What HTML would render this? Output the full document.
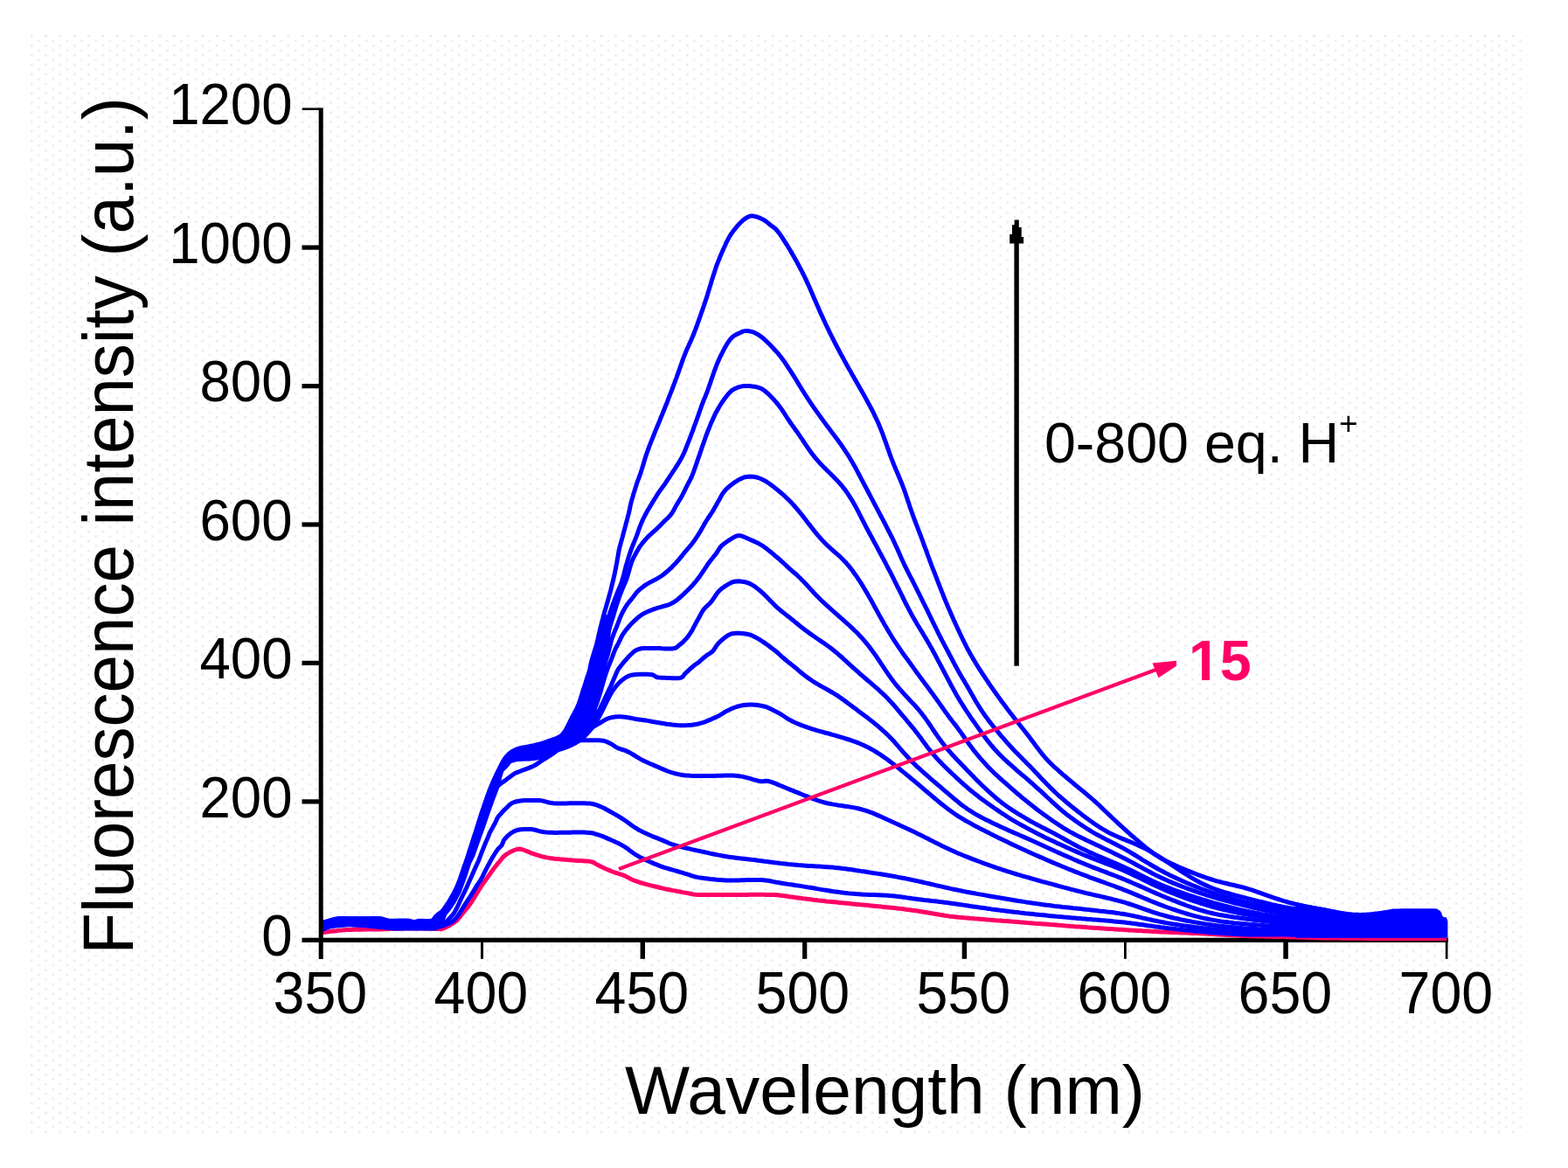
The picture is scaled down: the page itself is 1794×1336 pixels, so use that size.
<!DOCTYPE html><html><head><meta charset="utf-8"><title>Fluorescence spectra</title>
<style>html,body{margin:0;padding:0;background:#fff;}svg{display:block;}text{font-family:"Liberation Sans",sans-serif;}</style></head><body>
<svg width="1794" height="1336" viewBox="0 0 1794 1336">
<defs><pattern id="dots" x="35" y="40" width="16.3" height="10.9" patternUnits="userSpaceOnUse"><rect x="0" y="0" width="2.6" height="2.6" fill="#e9e9f6"/><rect x="8.15" y="5.45" width="2.6" height="2.6" fill="#ececf7"/></pattern></defs>
<rect x="0" y="0" width="1794" height="1336" fill="#fff"/>
<rect x="35" y="40" width="1712" height="1257" fill="url(#dots)"/>
<g fill="#000">
<rect x="345.5" y="1072.7" width="1311.5" height="5.2"/>
<rect x="550.0" y="1075" width="3.0" height="21.8"/>
<rect x="732.6" y="1075" width="5.4" height="21.8"/>
<rect x="918.1" y="1075" width="5.2" height="21.8"/>
<rect x="1100.7" y="1075" width="5.4" height="21.8"/>
<rect x="1286.0" y="1075" width="2.8" height="21.8"/>
<rect x="1468.3" y="1075" width="5.5" height="21.8"/>
<rect x="1653.8" y="1075" width="2.7" height="21.8"/>
</g>
<path d="M367.0 1067.0L370.0 1066.6L372.9 1066.1L375.9 1065.7L378.9 1065.3L381.9 1065.0L384.9 1064.7L387.8 1064.3L390.8 1064.1L393.8 1063.8L396.8 1063.6L399.8 1063.5L402.8 1063.4L405.8 1063.3L408.8 1063.3L411.8 1063.2L414.8 1063.2L417.8 1063.1L420.8 1063.1L423.8 1063.0L426.8 1063.0L429.8 1063.0L432.8 1062.9L435.8 1062.9L438.8 1062.8L441.8 1062.7L444.8 1062.6L447.8 1062.3L450.8 1062.2L453.8 1062.2L456.8 1062.2L459.8 1062.1L462.8 1062.1L465.8 1062.1L468.8 1062.1L471.8 1062.1L474.8 1062.1L477.8 1062.1L480.9 1062.1L483.9 1062.1L486.9 1062.1L489.9 1062.1L492.9 1062.2L495.9 1062.2L498.9 1062.2L501.9 1062.4L504.2 1062.9L507.0 1062.0L509.8 1060.9L512.5 1059.5L515.1 1058.0L517.6 1056.4L520.2 1054.8L522.5 1053.0L524.6 1050.8L526.4 1048.4L528.3 1046.0L530.2 1043.7L532.1 1041.4L534.0 1039.1L535.9 1036.8L537.7 1034.3L539.4 1031.9L541.0 1029.3L542.6 1026.8L544.1 1024.2L545.7 1021.6L547.2 1019.1L548.8 1016.5L550.5 1014.0L552.1 1011.5L553.9 1009.1L555.6 1006.6L557.3 1004.2L559.1 1001.7L560.8 999.3L562.5 996.8L564.3 994.4L566.1 992.0L568.0 989.6L569.9 987.3L571.9 985.1L573.7 982.7L575.6 980.4L577.8 978.4L580.3 976.6L582.9 975.1L585.5 973.8L588.3 972.5L591.1 971.5L594.1 971.1L597.0 971.5L599.9 972.5L602.7 973.6L605.5 974.7L608.2 975.9L611.1 976.8L613.9 977.8L616.8 978.7L619.6 979.6L622.6 980.3L625.5 980.9L628.5 981.4L631.4 981.8L634.4 982.2L637.4 982.5L640.4 982.8L643.4 983.0L646.4 983.3L649.4 983.6L652.4 983.8L655.3 984.1L658.3 984.3L661.3 984.5L664.3 984.6L667.3 984.7L670.3 984.9L673.3 985.1L676.3 985.6L679.1 986.5L681.7 988.1L684.3 989.6L687.0 990.9L689.7 992.2L692.4 993.5L695.2 994.7L697.9 995.9L700.7 997.0L703.5 998.0L706.4 998.9L709.3 999.8L712.1 1000.7L714.9 1001.8L717.6 1003.2L720.2 1004.6L722.9 1006.0L725.6 1007.2L728.5 1008.2L731.3 1009.1L734.2 1010.0L737.1 1010.8L740.0 1011.6L742.9 1012.4L745.8 1013.1L748.7 1013.8L751.6 1014.5L754.6 1015.2L757.5 1015.9L760.4 1016.6L763.3 1017.2L766.3 1017.8L769.2 1018.4L772.2 1018.9L775.1 1019.5L778.1 1020.0L781.0 1020.6L784.0 1021.1L787.0 1021.6L789.9 1022.2L792.8 1022.9L795.8 1023.2L798.8 1023.4L801.8 1023.4L804.8 1023.5L807.8 1023.5L810.8 1023.5L813.8 1023.5L816.8 1023.5L819.8 1023.5L822.8 1023.5L825.8 1023.5L828.8 1023.4L831.8 1023.4L834.8 1023.4L837.8 1023.4L840.8 1023.4L843.8 1023.4L846.8 1023.4L849.8 1023.4L852.8 1023.4L855.8 1023.4L858.8 1023.3L861.8 1023.3L864.9 1023.3L867.9 1023.3L870.9 1023.3L873.9 1023.3L876.9 1023.4L879.9 1023.4L882.9 1023.5L885.9 1023.6L888.9 1023.8L891.9 1024.0L894.8 1024.4L897.8 1024.8L900.8 1025.2L903.7 1025.7L906.7 1026.1L909.7 1026.5L912.7 1026.9L915.6 1027.3L918.6 1027.7L921.6 1028.0L924.6 1028.4L927.6 1028.8L930.5 1029.2L933.5 1029.5L936.5 1029.9L939.5 1030.2L942.5 1030.5L945.4 1030.9L948.4 1031.2L951.4 1031.5L954.4 1031.8L957.4 1032.1L960.4 1032.4L963.4 1032.7L966.4 1033.0L969.3 1033.3L972.3 1033.6L975.3 1033.9L978.3 1034.2L981.3 1034.5L984.3 1034.8L987.3 1035.0L990.3 1035.3L993.2 1035.6L996.2 1035.9L999.2 1036.2L1002.2 1036.5L1005.2 1036.8L1008.2 1037.1L1011.2 1037.4L1014.2 1037.7L1017.1 1038.0L1020.1 1038.3L1023.1 1038.6L1026.1 1038.9L1029.1 1039.3L1032.1 1039.6L1035.0 1040.0L1038.0 1040.4L1041.0 1040.7L1044.0 1041.2L1046.9 1041.6L1049.9 1042.0L1052.9 1042.5L1055.8 1043.0L1058.8 1043.5L1061.8 1044.0L1064.7 1044.5L1067.7 1045.0L1070.6 1045.5L1073.6 1046.0L1076.5 1046.5L1079.5 1047.0L1082.5 1047.4L1085.4 1047.9L1088.4 1048.2L1091.4 1048.6L1094.4 1048.9L1097.4 1049.2L1100.3 1049.5L1103.3 1049.8L1106.3 1050.0L1109.3 1050.3L1112.3 1050.5L1115.3 1050.8L1118.3 1051.0L1121.3 1051.3L1124.3 1051.5L1127.3 1051.7L1130.3 1052.0L1133.3 1052.2L1136.2 1052.4L1139.2 1052.7L1142.2 1052.9L1145.2 1053.1L1148.2 1053.4L1151.2 1053.6L1154.2 1053.8L1157.2 1054.1L1160.2 1054.3L1163.2 1054.5L1166.2 1054.8L1169.2 1055.0L1172.2 1055.2L1175.2 1055.5L1178.1 1055.7L1181.1 1055.9L1184.1 1056.2L1187.1 1056.4L1190.1 1056.6L1193.1 1056.9L1196.1 1057.1L1199.1 1057.3L1202.1 1057.6L1205.1 1057.8L1208.1 1058.0L1211.1 1058.3L1214.1 1058.5L1217.1 1058.7L1220.1 1059.0L1223.0 1059.2L1226.0 1059.4L1229.0 1059.7L1232.0 1059.9L1235.0 1060.1L1238.0 1060.3L1241.0 1060.5L1244.0 1060.8L1247.0 1061.0L1250.0 1061.2L1253.0 1061.4L1256.0 1061.6L1259.0 1061.8L1262.0 1062.0L1265.0 1062.2L1268.0 1062.4L1271.0 1062.6L1274.0 1062.8L1277.0 1063.0L1280.0 1063.2L1282.9 1063.3L1285.9 1063.5L1288.9 1063.7L1291.9 1063.9L1294.9 1064.1L1297.9 1064.2L1300.9 1064.4L1303.9 1064.6L1306.9 1064.8L1309.9 1064.9L1312.9 1065.1L1315.9 1065.3L1318.9 1065.4L1321.9 1065.6L1324.9 1065.7L1327.9 1065.9L1330.9 1066.0L1333.9 1066.1L1336.9 1066.3L1339.9 1066.4L1342.9 1066.5L1345.9 1066.6L1348.9 1066.8L1351.9 1066.9L1354.9 1067.0L1357.9 1067.1L1360.9 1067.2L1363.9 1067.4L1366.9 1067.5L1369.9 1067.6L1372.9 1067.8L1375.9 1067.9L1378.9 1068.1L1381.9 1068.2L1384.9 1068.4L1387.9 1068.6L1390.9 1068.8L1393.9 1068.9L1396.9 1069.1L1399.9 1069.3L1402.9 1069.5L1405.9 1069.7L1408.9 1069.8L1411.9 1070.0L1414.9 1070.1L1417.9 1070.3L1420.9 1070.4L1423.9 1070.5L1426.9 1070.6L1429.9 1070.7L1432.9 1070.8L1435.9 1070.9L1438.9 1071.0L1441.9 1071.0L1444.9 1071.1L1447.9 1071.2L1450.9 1071.2L1453.9 1071.3L1456.9 1071.4L1459.9 1071.4L1462.9 1071.5L1465.9 1071.6L1468.9 1071.6L1471.9 1071.7L1474.9 1071.8L1477.9 1071.9L1480.9 1072.0L1483.9 1072.1L1486.9 1072.2L1489.9 1072.3L1492.9 1072.3L1495.9 1072.4L1498.9 1072.5L1501.9 1072.6L1504.9 1072.7L1507.9 1072.7L1510.9 1072.8L1513.9 1072.9L1516.9 1072.9L1519.9 1073.0L1522.9 1073.0L1525.9 1073.0L1528.9 1073.1L1531.9 1073.1L1534.9 1073.2L1537.9 1073.2L1540.9 1073.2L1543.9 1073.2L1546.9 1073.3L1549.9 1073.3L1552.9 1073.3L1555.9 1073.3L1558.9 1073.3L1561.9 1073.3L1564.9 1073.4L1567.9 1073.4L1570.9 1073.4L1573.9 1073.4L1576.9 1073.4L1579.9 1073.4L1582.9 1073.4L1585.9 1073.4L1589.0 1073.5L1592.0 1073.5L1595.0 1073.5L1598.0 1073.5L1601.0 1073.5L1604.0 1073.5L1607.0 1073.5L1610.0 1073.5L1613.0 1073.5L1616.0 1073.5L1619.0 1073.5L1622.0 1073.5L1625.0 1073.5L1628.0 1073.5L1631.0 1073.5L1634.0 1073.5L1637.0 1073.5L1640.0 1073.5L1643.0 1073.5L1646.0 1073.5L1649.0 1073.5L1652.0 1073.5L1655.0 1073.5" fill="none" stroke="#ff0066" stroke-width="5.0" stroke-linejoin="round"/>
<g fill="#0000ff">
<polygon points="497.0,1047.0 500.0,1044.9 503.6,1042.5 506.0,1038.9 509.0,1034.7 512.0,1031.7 514.4,1026.3 517.4,1020.9 520.4,1014.9 522.8,1010.1 525.5,1002.0 528.5,993.4 531.5,985.0 535.0,975.0 539.3,965.0 545.0,948.0 550.5,930.0 555.5,915.0 560.9,900.0 567.5,885.0 575.0,870.0 580.0,863.0 584.3,858.0 591.0,854.7 604.4,852.3 617.7,849.2 626.4,846.4 634.2,843.7 640.5,840.9 645.4,835.4 648.1,830.0 650.8,824.6 653.5,819.2 656.2,813.8 659.5,807.7 662.2,800.3 664.3,792.2 667.6,783.5 670.3,775.4 673.0,767.5 675.2,757.4 678.0,746.5 681.0,736.0 684.0,723.5 687.0,711.5 692.0,702.0 700.5,708.0 699.0,722.0 697.0,740.0 694.5,755.0 692.0,768.0 690.0,779.0 688.0,789.0 686.0,796.0 683.0,802.5 680.5,808.0 683.0,811.0 687.5,814.5 686.0,821.0 682.0,827.5 676.5,834.0 670.0,838.0 661.6,842.1 656.8,844.8 650.0,850.5 645.0,854.5 640.0,856.9 631.9,864.9 620.9,868.8 602.0,870.4 591.0,871.2 584.0,873.2 580.0,874.3 577.0,880.0 574.0,890.0 571.7,900.0 566.0,915.0 560.6,930.0 555.5,945.0 550.1,960.0 548.0,966.0 543.0,980.0 539.0,988.0 535.5,999.0 532.0,1009.0 527.5,1021.0 521.5,1032.5 515.0,1042.0 509.0,1049.0 503.0,1054.0 497.0,1056.0"/>
<polygon points="367.0,1053.6 375.7,1053.6 375.7,1051.0 386.4,1051.0 386.4,1048.3 435.5,1048.3 435.5,1051.0 468.0,1051.0 468.0,1053.2 479.0,1053.2 479.0,1051.0 494.0,1051.0 498.8,1045.6 504.0,1042.5 504.0,1058.0 500.0,1064.6 449.0,1064.6 418.0,1061.2 400.0,1060.0 380.0,1061.2 370.0,1064.0 367.0,1066.6"/>
<polygon points="1482.5,1032.0 1497.0,1035.0 1514.3,1038.0 1531.7,1041.6 1547.7,1044.5 1565.0,1044.5 1579.6,1042.3 1594.0,1039.4 1644.8,1039.5 1645.5,1047.4 1656.4,1053.2 1656.4,1072.7 1482.5,1072.7"/>
</g>
<g fill="none" stroke="#0000ff" stroke-width="5.0" stroke-linejoin="round">
<path d="M367.0 1064.3L369.7 1063.0L372.4 1061.7L375.2 1060.6L378.1 1059.8L381.1 1059.4L384.0 1059.1L387.0 1058.8L390.0 1058.4L393.0 1058.1L396.0 1057.8L399.0 1057.7L402.0 1057.7L405.0 1057.9L408.0 1058.1L411.0 1058.3L414.0 1058.5L417.0 1058.7L420.0 1058.9L423.0 1059.0L426.0 1059.0L429.0 1058.9L432.0 1058.9L435.0 1058.9L438.0 1059.0L441.0 1059.3L443.9 1059.6L446.5 1060.8L449.4 1061.6L452.4 1061.7L455.4 1061.7L458.4 1061.7L461.4 1061.7L464.4 1061.6L467.4 1061.6L470.4 1061.6L473.4 1061.6L476.4 1061.6L479.4 1061.6L482.4 1061.6L485.4 1061.7L488.4 1061.7L491.4 1061.7L494.4 1061.6L497.4 1061.2L500.3 1060.6L503.2 1059.9L506.1 1059.2L509.0 1058.2L511.7 1057.1L514.5 1055.8L517.2 1054.5L519.5 1052.6L521.6 1050.5L523.5 1048.2L525.2 1045.7L526.8 1043.1L528.3 1040.6L529.9 1038.0L531.5 1035.4L533.1 1032.9L534.8 1030.4L536.4 1027.9L538.1 1025.4L539.6 1022.8L541.2 1020.3L542.7 1017.7L544.3 1015.1L545.8 1012.6L547.5 1010.1L549.2 1007.6L550.8 1005.0L552.2 1002.4L553.5 999.7L554.8 997.0L556.2 994.3L557.6 991.6L559.0 989.0L560.4 986.3L561.8 983.7L563.3 981.1L564.9 978.5L566.5 976.0L568.1 973.5L569.9 971.1L572.0 968.9L574.1 966.8L575.3 964.1L576.3 961.3L578.1 958.9L580.2 956.7L582.5 954.7L584.8 952.9L587.4 951.3L590.1 950.1L593.0 949.2L596.0 948.7L599.0 948.6L602.0 948.5L605.0 948.5L608.0 948.6L610.9 949.0L613.8 949.7L616.7 950.6L619.6 951.3L622.6 951.8L625.6 952.1L628.6 952.3L631.6 952.3L634.6 952.4L637.6 952.4L640.6 952.3L643.6 952.3L646.6 952.3L649.6 952.2L652.6 952.2L655.6 952.1L658.6 952.1L661.6 952.1L664.6 952.1L667.6 952.1L670.6 952.2L673.6 952.4L676.6 952.7L679.5 953.3L682.4 954.3L685.2 955.2L688.1 956.1L690.9 957.2L693.6 958.4L696.4 959.6L699.1 960.8L701.9 962.0L704.6 963.3L707.3 964.5L710.0 965.9L712.6 967.4L715.2 968.9L717.7 970.6L720.1 972.4L722.5 974.2L724.9 976.0L727.4 977.7L730.0 979.2L732.6 980.6L735.3 982.0L738.0 983.3L740.7 984.5L743.5 985.7L746.2 986.9L749.0 988.1L751.8 989.2L754.6 990.3L757.4 991.3L760.2 992.3L763.1 993.1L766.0 994.0L768.9 994.8L771.8 995.7L774.6 996.5L777.5 997.4L780.4 998.2L783.3 999.1L786.1 999.9L789.0 1000.8L791.8 1001.9L794.7 1002.7L797.6 1003.4L800.6 1003.9L803.6 1004.3L806.5 1004.7L809.5 1005.1L812.5 1005.5L815.5 1005.8L818.5 1006.1L821.5 1006.4L824.4 1006.6L827.4 1006.8L830.4 1007.0L833.4 1007.1L836.4 1007.1L839.4 1007.1L842.4 1007.0L845.4 1006.9L848.4 1006.8L851.4 1006.7L854.4 1006.6L857.4 1006.5L860.4 1006.4L863.4 1006.4L866.5 1006.4L869.5 1006.5L872.4 1006.6L875.4 1006.9L878.4 1007.3L881.4 1007.8L884.3 1008.4L887.3 1009.0L890.2 1009.5L893.2 1010.0L896.1 1010.5L899.1 1010.9L902.1 1011.4L905.1 1011.8L908.0 1012.2L911.0 1012.7L914.0 1013.1L916.9 1013.6L919.9 1014.1L922.8 1014.6L925.8 1015.1L928.8 1015.5L931.7 1016.0L934.7 1016.6L937.6 1017.1L940.6 1017.6L943.6 1018.1L946.5 1018.5L949.5 1019.0L952.5 1019.5L955.4 1019.9L958.4 1020.3L961.4 1020.7L964.4 1021.1L967.3 1021.4L970.3 1021.8L973.3 1022.1L976.3 1022.3L979.3 1022.6L982.3 1022.8L985.3 1023.0L988.3 1023.2L991.3 1023.3L994.3 1023.4L997.2 1023.5L1000.2 1023.6L1003.2 1023.7L1006.2 1023.8L1009.2 1023.9L1012.2 1024.1L1015.2 1024.2L1018.2 1024.5L1021.2 1024.7L1024.2 1025.0L1027.1 1025.4L1030.1 1025.8L1033.1 1026.2L1036.1 1026.6L1039.0 1027.1L1042.0 1027.5L1045.0 1027.9L1047.9 1028.3L1050.9 1028.7L1053.9 1029.1L1056.9 1029.5L1059.9 1029.8L1062.8 1030.1L1065.8 1030.5L1068.8 1030.8L1071.8 1031.1L1074.8 1031.5L1077.7 1031.8L1080.7 1032.2L1083.7 1032.6L1086.7 1033.0L1089.6 1033.4L1092.6 1033.8L1095.6 1034.3L1098.6 1034.7L1101.5 1035.1L1104.5 1035.6L1107.5 1036.0L1110.4 1036.5L1113.4 1036.9L1116.4 1037.3L1119.3 1037.8L1122.3 1038.2L1125.3 1038.6L1128.3 1039.0L1131.2 1039.4L1134.2 1039.9L1137.2 1040.3L1140.2 1040.7L1143.1 1041.1L1146.1 1041.4L1149.1 1041.8L1152.1 1042.2L1155.0 1042.6L1158.0 1042.9L1161.0 1043.3L1164.0 1043.6L1167.0 1044.0L1170.0 1044.3L1172.9 1044.7L1175.9 1045.0L1178.9 1045.3L1181.9 1045.6L1184.9 1045.9L1187.9 1046.2L1190.9 1046.5L1193.8 1046.8L1196.8 1047.1L1199.8 1047.4L1202.8 1047.7L1205.8 1048.0L1208.8 1048.3L1211.8 1048.5L1214.8 1048.8L1217.7 1049.1L1220.7 1049.3L1223.7 1049.6L1226.7 1049.9L1229.7 1050.1L1232.7 1050.4L1235.7 1050.6L1238.7 1050.9L1241.7 1051.1L1244.7 1051.4L1247.7 1051.6L1250.7 1051.9L1253.6 1052.1L1256.6 1052.3L1259.6 1052.6L1262.6 1052.8L1265.6 1053.1L1268.6 1053.3L1271.6 1053.6L1274.6 1053.9L1277.6 1054.2L1280.6 1054.5L1283.5 1054.8L1286.5 1055.1L1289.5 1055.5L1292.5 1055.8L1295.5 1056.2L1298.4 1056.6L1301.4 1057.0L1304.4 1057.4L1307.4 1057.8L1310.3 1058.2L1313.3 1058.7L1316.3 1059.1L1319.3 1059.5L1322.2 1059.9L1325.2 1060.3L1328.2 1060.7L1331.2 1061.0L1334.1 1061.4L1337.1 1061.8L1340.1 1062.1L1343.1 1062.4L1346.1 1062.8L1349.1 1063.1L1352.0 1063.4L1355.0 1063.7L1358.0 1064.0L1361.0 1064.3L1364.0 1064.6L1367.0 1064.9L1370.0 1065.2L1373.0 1065.4L1375.9 1065.7L1378.9 1065.9L1381.9 1066.2L1384.9 1066.4L1387.9 1066.7L1390.9 1066.9L1393.9 1067.1L1396.9 1067.4L1399.9 1067.6L1402.9 1067.8L1405.9 1068.0L1408.9 1068.1L1411.9 1068.3L1414.9 1068.5L1417.9 1068.6L1420.9 1068.7L1423.9 1068.8L1426.9 1068.9L1429.9 1069.0L1432.9 1069.0L1435.9 1069.1L1438.9 1069.1L1441.9 1069.1L1444.9 1069.1L1447.9 1069.1L1450.9 1069.1L1453.9 1069.1L1456.9 1069.1L1459.9 1069.1L1462.9 1069.1L1465.9 1069.1L1468.9 1069.1L1471.9 1069.1L1474.9 1069.1L1477.9 1069.2L1480.9 1069.2L1483.9 1069.3L1486.9 1069.3L1489.9 1069.4L1492.9 1069.4L1495.9 1069.5L1498.9 1069.6L1501.9 1069.6L1504.9 1069.7L1507.9 1069.8L1510.9 1069.8L1513.9 1069.9L1516.9 1069.9L1519.9 1069.9L1522.9 1070.0L1525.9 1070.0L1528.9 1070.0L1531.9 1070.0L1534.9 1070.0L1537.9 1070.0L1540.9 1070.0L1543.9 1070.0L1546.9 1070.0L1549.9 1070.0L1552.9 1070.0L1555.9 1070.0L1558.9 1070.0L1561.9 1070.0L1564.9 1070.0L1567.9 1070.0L1570.9 1070.0L1573.9 1070.0L1576.9 1070.0L1579.9 1070.0L1583.0 1070.0L1586.0 1070.0L1589.0 1070.0L1592.0 1070.0L1595.0 1070.0L1598.0 1070.0L1601.0 1070.0L1604.0 1070.0L1607.0 1070.0L1610.0 1070.0L1613.0 1070.0L1616.0 1070.0L1619.0 1070.0L1622.0 1070.0L1625.0 1070.0L1628.0 1070.0L1631.0 1070.0L1634.0 1070.0L1637.0 1070.0L1640.0 1070.0L1643.0 1070.0L1646.0 1070.0L1649.0 1070.0L1652.0 1070.0L1655.0 1070.0"/>
<path d="M367.0 1063.4L369.7 1062.2L372.4 1060.9L375.2 1059.8L378.2 1059.1L381.1 1058.6L384.1 1058.3L387.1 1058.0L390.1 1057.6L393.1 1057.3L396.1 1057.1L399.1 1057.0L402.1 1057.0L405.1 1057.2L408.1 1057.3L411.1 1057.6L414.1 1057.8L417.1 1057.9L420.1 1058.1L423.1 1058.1L426.1 1058.1L429.1 1058.1L432.1 1058.0L435.1 1058.1L438.1 1058.3L441.1 1058.6L444.0 1059.0L446.7 1060.2L449.6 1060.8L452.6 1060.9L455.6 1060.9L458.6 1060.8L461.6 1060.8L464.6 1060.8L467.6 1060.8L470.6 1060.8L473.6 1060.9L476.6 1060.8L479.6 1060.8L482.6 1060.8L485.6 1060.9L488.6 1060.9L491.6 1060.9L494.6 1060.7L497.6 1060.2L500.4 1059.3L503.3 1058.4L506.1 1057.4L508.8 1056.0L511.0 1054.0L513.1 1051.8L515.1 1049.6L517.1 1047.4L519.1 1045.1L520.6 1042.5L522.0 1039.9L523.4 1037.2L524.7 1034.5L525.9 1031.8L527.1 1029.0L528.4 1026.3L529.7 1023.6L531.1 1020.9L532.4 1018.2L533.7 1015.5L534.9 1012.7L536.1 1010.0L537.3 1007.2L538.5 1004.5L539.8 1001.8L541.0 999.0L542.2 996.3L543.4 993.5L544.7 990.8L545.9 988.1L547.2 985.3L548.3 982.5L549.4 979.7L550.4 976.9L551.5 974.1L552.6 971.3L553.7 968.5L554.8 965.7L556.0 963.0L557.2 960.2L558.4 957.5L559.5 954.7L560.6 951.9L562.1 949.3L563.6 946.7L565.0 944.0L566.5 941.4L567.7 938.7L568.9 935.9L570.6 933.4L572.6 931.2L574.6 929.0L576.7 926.8L578.8 924.7L581.0 922.6L583.1 920.5L585.5 918.7L588.3 917.5L591.2 916.8L594.1 916.2L597.1 915.8L600.1 915.5L603.1 915.4L606.1 915.4L609.1 915.5L612.1 915.5L615.1 915.5L618.1 915.6L621.1 916.1L624.0 916.9L626.8 917.7L629.8 918.3L632.8 918.7L635.8 918.9L638.8 918.9L641.8 918.9L644.8 918.9L647.8 918.9L650.8 918.8L653.8 918.8L656.8 918.7L659.8 918.7L662.8 918.7L665.8 918.7L668.8 918.7L671.8 918.9L674.8 919.1L677.8 919.5L680.7 920.2L683.5 921.2L686.4 922.3L689.1 923.5L691.8 924.8L694.4 926.2L697.1 927.7L699.7 929.2L702.3 930.6L704.9 932.1L707.5 933.7L710.0 935.2L712.6 936.9L715.1 938.5L717.6 940.2L720.0 942.0L722.4 943.8L724.9 945.5L727.4 947.2L729.9 948.7L732.6 950.1L735.2 951.5L737.9 952.8L740.7 954.1L743.4 955.3L746.2 956.5L749.0 957.6L751.8 958.7L754.6 959.8L757.4 960.9L760.1 962.1L762.9 963.3L765.6 964.5L768.4 965.6L771.3 966.5L774.2 967.3L777.1 968.1L780.0 968.8L782.9 969.5L785.8 970.2L788.8 970.9L791.7 971.6L794.6 972.2L797.5 972.9L800.5 973.5L803.4 974.1L806.4 974.8L809.3 975.4L812.2 976.1L815.2 976.7L818.1 977.3L821.1 977.9L824.0 978.4L827.0 979.0L829.9 979.5L832.9 980.0L835.9 980.4L838.8 980.8L841.8 981.2L844.8 981.6L847.8 981.9L850.8 982.2L853.7 982.6L856.7 982.9L859.7 983.3L862.7 983.6L865.7 984.0L868.7 984.4L871.6 984.8L874.6 985.2L877.6 985.5L880.6 985.9L883.6 986.3L886.5 986.7L889.5 987.0L892.5 987.4L895.5 987.7L898.5 988.0L901.5 988.4L904.4 988.7L907.4 989.0L910.4 989.3L913.4 989.6L916.4 989.8L919.4 990.0L922.4 990.2L925.4 990.4L928.4 990.6L931.4 990.8L934.4 991.0L937.4 991.1L940.4 991.3L943.4 991.5L946.4 991.7L949.4 991.9L952.4 992.1L955.3 992.4L958.3 992.7L961.3 993.0L964.3 993.4L967.3 993.8L970.2 994.2L973.2 994.6L976.2 995.0L979.2 995.5L982.1 995.9L985.1 996.4L988.1 996.8L991.0 997.3L994.0 997.8L997.0 998.2L999.9 998.7L1002.9 999.1L1005.9 999.6L1008.8 1000.0L1011.8 1000.5L1014.8 1001.0L1017.7 1001.5L1020.7 1002.0L1023.7 1002.5L1026.6 1003.1L1029.6 1003.7L1032.5 1004.2L1035.5 1004.8L1038.4 1005.4L1041.3 1006.0L1044.3 1006.6L1047.2 1007.3L1050.1 1007.9L1053.1 1008.5L1056.0 1009.2L1058.9 1009.9L1061.9 1010.5L1064.8 1011.2L1067.7 1011.9L1070.6 1012.6L1073.6 1013.3L1076.5 1013.9L1079.4 1014.6L1082.4 1015.3L1085.3 1015.9L1088.2 1016.6L1091.2 1017.2L1094.1 1017.8L1097.0 1018.4L1100.0 1019.0L1102.9 1019.6L1105.9 1020.2L1108.8 1020.7L1111.8 1021.3L1114.7 1021.8L1117.7 1022.4L1120.6 1022.9L1123.6 1023.4L1126.6 1023.9L1129.5 1024.5L1132.5 1025.0L1135.4 1025.5L1138.4 1026.0L1141.4 1026.5L1144.3 1027.0L1147.3 1027.5L1150.2 1028.0L1153.2 1028.5L1156.2 1029.0L1159.1 1029.5L1162.1 1030.0L1165.1 1030.5L1168.0 1030.9L1171.0 1031.4L1174.0 1031.9L1176.9 1032.3L1179.9 1032.8L1182.9 1033.2L1185.9 1033.6L1188.8 1034.1L1191.8 1034.5L1194.8 1034.9L1197.8 1035.3L1200.7 1035.6L1203.7 1036.0L1206.7 1036.4L1209.7 1036.7L1212.7 1037.0L1215.7 1037.4L1218.6 1037.7L1221.6 1038.0L1224.6 1038.3L1227.6 1038.7L1230.6 1039.0L1233.6 1039.3L1236.6 1039.6L1239.5 1039.9L1242.5 1040.3L1245.5 1040.6L1248.5 1040.9L1251.5 1041.2L1254.5 1041.5L1257.5 1041.9L1260.5 1042.2L1263.4 1042.5L1266.4 1042.9L1269.4 1043.2L1272.4 1043.6L1275.4 1044.0L1278.3 1044.4L1281.3 1044.9L1284.3 1045.3L1287.2 1045.8L1290.2 1046.4L1293.1 1046.9L1296.1 1047.5L1299.0 1048.1L1301.9 1048.7L1304.9 1049.4L1307.8 1050.1L1310.7 1050.7L1313.7 1051.4L1316.6 1052.0L1319.5 1052.7L1322.5 1053.3L1325.4 1053.9L1328.4 1054.5L1331.3 1055.0L1334.3 1055.6L1337.2 1056.1L1340.2 1056.6L1343.1 1057.1L1346.1 1057.5L1349.1 1058.0L1352.0 1058.4L1355.0 1058.9L1358.0 1059.3L1361.0 1059.7L1363.9 1060.1L1366.9 1060.5L1369.9 1060.8L1372.9 1061.2L1375.9 1061.6L1378.9 1061.9L1381.8 1062.2L1384.8 1062.6L1387.8 1062.9L1390.8 1063.2L1393.8 1063.5L1396.8 1063.8L1399.8 1064.1L1402.8 1064.3L1405.8 1064.6L1408.7 1064.8L1411.7 1065.0L1414.7 1065.3L1417.7 1065.4L1420.7 1065.6L1423.7 1065.8L1426.7 1066.0L1429.7 1066.1L1432.7 1066.2L1435.7 1066.3L1438.7 1066.4L1441.7 1066.5L1444.7 1066.6L1447.7 1066.6L1450.7 1066.7L1453.8 1066.7L1456.8 1066.8L1459.8 1066.8L1462.8 1066.9L1465.8 1066.9L1468.8 1067.0L1471.8 1067.0L1474.8 1067.1L1477.8 1067.2L1480.8 1067.2L1483.8 1067.3L1486.8 1067.4L1489.8 1067.4L1492.8 1067.5L1495.8 1067.6L1498.8 1067.6L1501.8 1067.7L1504.8 1067.7L1507.8 1067.8L1510.8 1067.8L1513.8 1067.9L1516.8 1067.9L1519.8 1067.9L1522.8 1068.0L1525.8 1068.0L1528.8 1068.0L1531.8 1068.0L1534.8 1068.0L1537.8 1068.0L1540.9 1068.0L1543.9 1068.0L1546.9 1068.0L1549.9 1068.0L1552.9 1068.0L1555.9 1068.0L1558.9 1068.0L1561.9 1068.0L1564.9 1068.0L1567.9 1068.0L1570.9 1068.0L1573.9 1068.0L1576.9 1068.0L1579.9 1068.0L1582.9 1068.0L1585.9 1068.0L1588.9 1068.0L1591.9 1068.0L1594.9 1068.0L1597.9 1068.0L1600.9 1068.0L1603.9 1068.0L1606.9 1068.0L1609.9 1068.0L1612.9 1068.0L1615.9 1068.0L1619.0 1068.0L1622.0 1068.0L1625.0 1068.0L1628.0 1068.0L1631.0 1068.0L1634.0 1068.0L1637.0 1068.0L1640.0 1068.0L1643.0 1068.0L1646.0 1068.0L1649.0 1068.0L1652.0 1068.0L1655.0 1068.0"/>
<path d="M367.0 1062.6L369.7 1061.3L372.5 1060.1L375.3 1059.1L378.2 1058.3L381.2 1057.8L384.1 1057.5L387.1 1057.1L390.1 1056.8L393.1 1056.6L396.1 1056.4L399.1 1056.3L402.1 1056.3L405.1 1056.4L408.1 1056.6L411.1 1056.8L414.1 1057.0L417.1 1057.1L420.1 1057.3L423.1 1057.3L426.1 1057.3L429.1 1057.2L432.1 1057.2L435.1 1057.3L438.1 1057.5L441.1 1057.8L444.1 1058.3L446.7 1059.5L449.7 1060.0L452.7 1060.0L455.7 1060.0L458.7 1060.0L461.7 1059.9L464.7 1059.9L467.7 1059.9L470.7 1060.0L473.7 1060.2L476.7 1060.1L479.7 1059.9L482.7 1059.9L485.7 1060.0L488.7 1060.0L491.7 1060.0L494.7 1059.9L497.7 1059.6L500.5 1058.7L503.0 1057.0L504.9 1054.7L506.4 1052.1L507.6 1049.3L508.4 1046.5L509.3 1043.6L510.6 1040.9L512.4 1038.5L514.2 1036.1L515.9 1033.6L517.5 1031.0L519.0 1028.5L520.6 1025.9L522.0 1023.3L523.5 1020.6L524.8 1017.9L526.0 1015.2L527.2 1012.4L528.3 1009.6L529.4 1006.8L530.5 1004.0L531.5 1001.2L532.5 998.4L533.4 995.5L534.3 992.7L535.3 989.8L536.3 987.0L537.2 984.1L538.2 981.3L539.1 978.4L540.1 975.6L541.0 972.7L542.0 969.9L542.9 967.0L543.8 964.2L544.7 961.3L545.7 958.4L546.6 955.6L547.5 952.7L548.4 949.9L549.3 947.0L550.2 944.1L551.1 941.3L552.1 938.4L553.0 935.6L553.9 932.7L554.9 929.9L555.8 927.0L556.8 924.2L557.7 921.3L558.6 918.5L559.5 915.6L560.4 912.7L561.4 909.9L562.6 907.1L564.1 904.6L566.1 902.3L568.2 900.2L570.5 898.3L572.8 896.3L575.3 894.6L577.8 892.9L580.2 891.1L582.6 889.3L585.0 887.5L587.4 885.7L590.0 884.2L592.8 883.1L595.6 882.0L598.4 880.9L601.2 879.9L604.0 878.8L606.8 877.7L609.6 876.6L612.3 875.3L614.7 873.6L617.2 871.9L619.7 870.2L622.2 868.6L624.8 867.0L627.3 865.4L629.9 863.8L632.4 862.2L634.8 860.4L637.2 858.6L639.6 856.8L642.0 855.0L644.3 853.1L646.7 851.2L649.1 849.4L651.8 848.1L654.7 847.4L657.7 847.2L660.7 847.0L663.7 846.8L666.7 846.8L669.7 846.8L672.7 846.8L675.7 846.8L678.7 846.8L681.7 846.8L684.7 846.8L687.7 846.9L690.7 847.3L693.5 848.2L696.3 849.4L699.0 850.7L701.5 852.3L703.9 854.1L706.6 855.5L709.4 856.6L712.2 857.5L715.1 858.4L717.9 859.6L720.5 860.9L723.1 862.4L725.7 864.0L728.3 865.6L730.8 867.1L733.4 868.6L736.1 870.0L738.8 871.3L741.5 872.5L744.3 873.7L747.1 874.9L749.8 876.1L752.6 877.3L755.3 878.4L758.1 879.7L760.9 880.8L763.6 882.0L766.5 883.0L769.3 883.9L772.2 884.7L775.1 885.4L778.1 886.0L781.0 886.5L784.0 886.9L787.0 887.1L790.0 887.3L793.0 887.4L796.0 887.5L799.0 887.5L802.0 887.5L805.0 887.5L808.0 887.5L811.0 887.5L814.0 887.5L817.0 887.4L820.0 887.3L823.0 887.2L826.0 887.2L829.0 887.1L832.0 887.1L835.0 887.1L838.0 887.1L841.0 887.3L844.0 887.5L847.0 887.9L850.0 888.4L852.9 889.1L855.8 889.9L858.7 890.7L861.6 891.6L864.4 892.4L867.3 893.2L870.3 893.8L873.3 893.8L876.2 893.2L879.2 893.5L882.0 894.3L884.9 895.4L887.7 896.4L890.5 897.6L893.2 898.7L896.0 899.9L898.8 901.0L901.5 902.2L904.3 903.3L907.1 904.4L909.9 905.6L912.7 906.7L915.5 907.8L918.2 909.0L921.0 910.1L923.8 911.2L926.6 912.3L929.4 913.4L932.2 914.4L935.0 915.4L937.9 916.3L940.7 917.2L943.6 918.0L946.5 918.7L949.4 919.3L952.3 919.9L955.3 920.4L958.2 920.9L961.2 921.3L964.2 921.7L967.1 922.2L970.1 922.6L973.1 923.1L976.0 923.6L978.9 924.1L981.8 924.8L984.7 925.5L987.6 926.3L990.5 927.2L993.3 928.1L996.1 929.2L998.9 930.2L1001.6 931.4L1004.4 932.6L1007.1 933.8L1009.9 935.0L1012.6 936.2L1015.3 937.5L1018.1 938.7L1020.8 940.0L1023.5 941.2L1026.3 942.5L1029.0 943.7L1031.7 945.0L1034.5 946.2L1037.2 947.5L1039.9 948.7L1042.6 950.0L1045.3 951.3L1048.0 952.6L1050.7 954.0L1053.4 955.3L1056.1 956.6L1058.8 958.0L1061.5 959.3L1064.1 960.7L1066.8 962.0L1069.5 963.4L1072.2 964.7L1074.9 966.1L1077.6 967.4L1080.3 968.7L1083.0 970.0L1085.7 971.3L1088.4 972.5L1091.2 973.8L1093.9 975.0L1096.7 976.2L1099.4 977.3L1102.2 978.5L1105.0 979.6L1107.8 980.7L1110.6 981.8L1113.4 982.9L1116.2 983.9L1119.0 985.0L1121.8 986.0L1124.6 987.1L1127.4 988.1L1130.3 989.1L1133.1 990.1L1135.9 991.1L1138.8 992.1L1141.6 993.1L1144.5 994.0L1147.3 995.0L1150.2 995.9L1153.0 996.8L1155.9 997.7L1158.8 998.6L1161.6 999.5L1164.5 1000.4L1167.4 1001.2L1170.3 1002.1L1173.1 1002.9L1176.0 1003.7L1178.9 1004.5L1181.8 1005.3L1184.7 1006.1L1187.6 1007.0L1190.5 1007.8L1193.4 1008.6L1196.3 1009.3L1199.2 1010.1L1202.1 1010.9L1205.0 1011.7L1207.9 1012.5L1210.8 1013.3L1213.7 1014.1L1216.6 1014.9L1219.5 1015.6L1222.4 1016.4L1225.3 1017.2L1228.2 1017.9L1231.1 1018.7L1234.0 1019.4L1236.9 1020.1L1239.8 1020.8L1242.8 1021.6L1245.7 1022.2L1248.6 1022.9L1251.5 1023.6L1254.4 1024.3L1257.4 1024.9L1260.3 1025.6L1263.2 1026.3L1266.2 1027.0L1269.1 1027.6L1272.0 1028.3L1274.9 1029.1L1277.8 1029.8L1280.7 1030.6L1283.6 1031.4L1286.5 1032.2L1289.4 1033.1L1292.2 1034.0L1295.1 1034.9L1297.9 1035.9L1300.8 1036.8L1303.6 1037.8L1306.4 1038.8L1309.2 1039.8L1312.1 1040.8L1314.9 1041.8L1317.7 1042.8L1320.6 1043.8L1323.4 1044.7L1326.3 1045.6L1329.2 1046.4L1332.1 1047.2L1335.0 1048.0L1337.9 1048.8L1340.8 1049.5L1343.7 1050.2L1346.6 1050.8L1349.6 1051.5L1352.5 1052.1L1355.4 1052.7L1358.4 1053.3L1361.3 1053.8L1364.3 1054.4L1367.2 1054.9L1370.2 1055.4L1373.2 1055.9L1376.1 1056.4L1379.1 1056.9L1382.1 1057.3L1385.0 1057.7L1388.0 1058.2L1391.0 1058.6L1394.0 1058.9L1396.9 1059.3L1399.9 1059.6L1402.9 1059.9L1405.9 1060.3L1408.9 1060.5L1411.9 1060.8L1414.9 1061.1L1417.9 1061.3L1420.9 1061.6L1423.8 1061.8L1426.8 1062.0L1429.8 1062.2L1432.8 1062.4L1435.8 1062.6L1438.8 1062.8L1441.8 1062.9L1444.8 1063.0L1447.8 1063.2L1450.8 1063.3L1453.8 1063.4L1456.8 1063.5L1459.8 1063.6L1462.8 1063.7L1465.8 1063.8L1468.8 1063.9L1471.8 1064.0L1474.8 1064.1L1477.8 1064.2L1480.8 1064.2L1483.8 1064.3L1486.8 1064.4L1489.9 1064.4L1492.9 1064.5L1495.9 1064.6L1498.9 1064.6L1501.9 1064.7L1504.9 1064.7L1507.9 1064.8L1510.9 1064.8L1513.9 1064.9L1516.9 1065.0L1519.9 1065.0L1522.9 1065.1L1525.9 1065.2L1528.9 1065.2L1531.9 1065.3L1534.9 1065.4L1537.9 1065.5L1540.9 1065.5L1543.9 1065.6L1546.9 1065.7L1549.9 1065.7L1552.9 1065.8L1555.9 1065.8L1558.9 1065.9L1561.9 1065.9L1564.9 1066.0L1567.9 1066.0L1570.9 1066.0L1573.9 1066.0L1576.9 1066.0L1579.9 1066.0L1582.9 1066.0L1585.9 1066.0L1588.9 1066.0L1591.9 1066.0L1594.9 1066.0L1597.9 1066.0L1600.9 1066.0L1603.9 1066.0L1607.0 1066.0L1610.0 1066.0L1613.0 1066.0L1616.0 1066.0L1619.0 1066.0L1622.0 1066.0L1625.0 1066.0L1628.0 1066.0L1631.0 1066.0L1634.0 1066.0L1637.0 1066.0L1640.0 1066.0L1643.0 1066.0L1646.0 1066.0L1649.0 1066.0L1652.0 1066.0L1655.0 1066.0"/>
<path d="M367.0 1061.7L369.8 1060.5L372.5 1059.4L375.4 1058.4L378.3 1057.6L381.2 1057.1L384.2 1056.6L387.2 1056.3L390.2 1056.0L393.2 1055.8L396.2 1055.7L399.2 1055.6L402.2 1055.6L405.2 1055.7L408.2 1055.9L411.2 1056.0L414.2 1056.2L417.2 1056.3L420.2 1056.4L423.2 1056.5L426.2 1056.4L429.2 1056.4L432.2 1056.4L435.2 1056.5L438.2 1056.7L441.2 1057.1L444.1 1057.7L446.9 1058.8L449.8 1059.1L452.8 1059.2L455.8 1059.1L458.8 1059.1L461.8 1059.1L464.9 1059.1L467.9 1059.1L470.9 1059.3L473.8 1059.5L476.8 1059.3L479.8 1059.1L482.8 1059.1L485.8 1059.2L488.9 1059.3L491.9 1059.3L494.8 1059.0L497.7 1058.1L500.2 1056.4L502.1 1054.1L503.8 1051.6L506.0 1049.5L507.6 1047.0L508.9 1044.3L510.1 1041.5L511.4 1038.8L512.9 1036.2L514.7 1033.8L516.3 1031.3L517.8 1028.7L519.3 1026.1L520.9 1023.5L522.3 1020.9L523.7 1018.2L524.9 1015.5L526.1 1012.7L527.2 1009.9L528.3 1007.1L529.3 1004.3L530.3 1001.4L531.3 998.6L532.2 995.7L533.2 992.9L534.2 990.1L535.2 987.2L536.2 984.4L537.1 981.5L538.0 978.7L539.0 975.8L539.9 973.0L540.8 970.1L541.7 967.2L542.6 964.4L543.6 961.5L544.5 958.7L545.4 955.8L546.4 953.0L547.3 950.1L548.2 947.2L549.1 944.4L550.0 941.5L550.9 938.6L551.8 935.8L552.7 932.9L553.6 930.0L554.6 927.2L555.5 924.3L556.5 921.5L557.5 918.7L558.5 915.8L559.5 913.0L560.5 910.2L561.5 907.3L562.5 904.5L563.6 901.7L564.7 898.9L565.9 896.1L567.0 893.4L568.2 890.6L569.5 887.9L570.9 885.2L572.6 882.7L574.6 880.5L576.9 878.6L579.0 876.5L580.9 874.1L582.6 871.6L584.6 869.5L587.3 868.0L590.2 867.2L593.1 866.6L596.1 866.5L599.0 867.1L602.0 867.8L605.0 868.0L607.9 867.7L610.9 867.4L613.9 866.9L616.8 866.2L619.7 865.3L622.4 864.0L625.0 862.6L627.8 861.5L630.7 860.5L633.5 859.6L636.3 858.4L639.0 857.2L641.7 855.8L644.3 854.2L646.7 852.5L649.1 850.7L651.5 848.8L653.8 846.9L656.2 845.1L658.7 843.4L661.2 841.8L663.8 840.2L666.4 838.7L669.0 837.3L671.7 835.9L674.2 834.3L676.8 832.7L679.3 831.1L681.9 829.6L684.5 828.1L687.1 826.5L689.7 825.0L692.2 823.4L694.9 822.1L697.8 821.1L700.7 820.5L703.6 820.0L706.6 819.8L709.6 819.8L712.6 820.0L715.6 820.3L718.6 820.8L721.6 821.3L724.5 821.9L727.5 822.5L730.4 822.9L733.4 823.3L736.4 823.7L739.4 824.1L742.3 824.6L745.3 825.2L748.2 825.8L751.2 826.2L754.2 826.7L757.1 827.2L760.1 827.7L763.1 828.2L766.0 828.6L769.0 829.0L772.0 829.3L775.0 829.6L778.0 829.7L781.0 829.8L784.0 829.7L787.0 829.6L790.0 829.4L793.0 829.0L795.9 828.6L798.9 828.0L801.8 827.2L804.7 826.3L807.5 825.3L810.3 824.2L813.1 823.1L815.8 821.8L818.5 820.6L821.3 819.3L823.9 817.8L826.4 816.3L829.0 814.7L831.6 813.2L834.3 811.9L837.0 810.6L839.8 809.5L842.6 808.5L845.5 807.6L848.5 807.0L851.4 806.5L854.4 806.2L857.4 806.0L860.4 806.0L863.4 806.2L866.4 806.5L869.4 807.0L872.3 807.5L875.2 808.2L878.1 809.2L880.8 810.4L883.6 811.7L886.2 813.1L888.9 814.5L891.5 815.9L894.1 817.4L896.6 819.0L899.1 820.7L901.6 822.4L904.2 823.8L906.9 825.2L909.6 826.5L912.3 827.7L915.1 828.8L917.9 829.9L920.7 830.9L923.5 831.9L926.4 832.9L929.2 833.8L932.1 834.7L934.9 835.6L937.8 836.4L940.7 837.2L943.6 838.0L946.5 838.7L949.4 839.5L952.3 840.3L955.2 841.1L958.1 842.0L961.0 842.8L963.8 843.7L966.7 844.6L969.6 845.5L972.4 846.4L975.2 847.4L978.1 848.4L980.9 849.4L983.6 850.5L986.4 851.7L989.1 852.9L991.8 854.2L994.4 855.5L997.1 857.0L999.6 858.4L1002.2 860.0L1004.7 861.6L1007.3 863.2L1009.7 864.9L1012.2 866.6L1014.6 868.3L1017.1 870.1L1019.5 871.9L1021.8 873.7L1024.2 875.6L1026.5 877.4L1028.9 879.3L1031.2 881.2L1033.6 883.1L1035.9 885.0L1038.2 886.9L1040.5 888.8L1042.8 890.7L1045.2 892.6L1047.5 894.6L1049.8 896.5L1052.0 898.4L1054.3 900.4L1056.6 902.3L1058.9 904.3L1061.2 906.2L1063.5 908.1L1065.8 910.1L1068.1 912.0L1070.4 914.0L1072.7 915.9L1075.0 917.8L1077.4 919.7L1079.7 921.5L1082.1 923.4L1084.4 925.2L1086.9 927.0L1089.3 928.8L1091.7 930.5L1094.2 932.2L1096.7 933.8L1099.3 935.4L1101.8 936.9L1104.4 938.5L1107.0 939.9L1109.7 941.4L1112.3 942.8L1114.9 944.3L1117.6 945.7L1120.3 947.1L1122.9 948.4L1125.6 949.8L1128.3 951.2L1131.0 952.5L1133.6 953.9L1136.3 955.2L1139.0 956.6L1141.7 957.9L1144.4 959.2L1147.1 960.5L1149.8 961.8L1152.5 963.1L1155.2 964.4L1157.9 965.7L1160.7 967.0L1163.4 968.3L1166.1 969.5L1168.8 970.8L1171.6 972.0L1174.3 973.3L1177.0 974.5L1179.8 975.8L1182.5 977.0L1185.3 978.2L1188.0 979.4L1190.8 980.6L1193.5 981.8L1196.3 983.0L1199.1 984.2L1201.8 985.4L1204.6 986.6L1207.3 987.7L1210.1 988.9L1212.9 990.0L1215.7 991.2L1218.4 992.3L1221.2 993.5L1224.0 994.6L1226.8 995.7L1229.6 996.8L1232.4 997.9L1235.2 999.0L1238.0 1000.1L1240.8 1001.2L1243.6 1002.2L1246.4 1003.3L1249.2 1004.3L1252.1 1005.4L1254.9 1006.4L1257.7 1007.4L1260.5 1008.4L1263.4 1009.4L1266.2 1010.5L1269.0 1011.5L1271.8 1012.5L1274.7 1013.5L1277.5 1014.6L1280.3 1015.6L1283.1 1016.7L1285.9 1017.8L1288.7 1018.9L1291.5 1020.0L1294.3 1021.1L1297.0 1022.3L1299.8 1023.4L1302.6 1024.6L1305.3 1025.8L1308.1 1027.0L1310.9 1028.1L1313.6 1029.3L1316.4 1030.5L1319.2 1031.6L1322.0 1032.7L1324.8 1033.8L1327.6 1034.9L1330.4 1035.9L1333.2 1037.0L1336.0 1038.0L1338.9 1039.0L1341.7 1040.0L1344.6 1040.9L1347.4 1041.9L1350.3 1042.8L1353.1 1043.7L1356.0 1044.6L1358.9 1045.5L1361.8 1046.3L1364.7 1047.1L1367.5 1047.9L1370.5 1048.6L1373.4 1049.4L1376.3 1050.1L1379.2 1050.7L1382.2 1051.3L1385.1 1051.9L1388.1 1052.4L1391.0 1052.9L1394.0 1053.4L1396.9 1053.9L1399.9 1054.3L1402.9 1054.6L1405.9 1055.0L1408.9 1055.3L1411.8 1055.7L1414.8 1056.0L1417.8 1056.3L1420.8 1056.6L1423.8 1056.8L1426.8 1057.1L1429.8 1057.4L1432.8 1057.6L1435.8 1057.8L1438.8 1058.1L1441.8 1058.3L1444.8 1058.5L1447.8 1058.7L1450.8 1058.9L1453.8 1059.0L1456.8 1059.2L1459.8 1059.4L1462.8 1059.5L1465.8 1059.7L1468.8 1059.9L1471.8 1060.0L1474.8 1060.2L1477.8 1060.3L1480.8 1060.4L1483.8 1060.6L1486.8 1060.7L1489.8 1060.9L1492.8 1061.0L1495.8 1061.1L1498.8 1061.2L1501.8 1061.3L1504.8 1061.5L1507.8 1061.6L1510.8 1061.7L1513.8 1061.8L1516.8 1061.9L1519.8 1062.0L1522.8 1062.1L1525.8 1062.2L1528.8 1062.2L1531.8 1062.3L1534.8 1062.4L1537.8 1062.5L1540.8 1062.6L1543.8 1062.6L1546.8 1062.7L1549.8 1062.8L1552.8 1062.8L1555.8 1062.9L1558.9 1062.9L1561.9 1062.9L1564.9 1063.0L1567.9 1063.0L1570.9 1063.0L1573.9 1063.0L1576.9 1063.0L1579.9 1063.0L1582.9 1063.0L1585.9 1063.0L1588.9 1063.0L1591.9 1063.0L1594.9 1063.0L1597.9 1063.0L1600.9 1063.0L1603.9 1063.0L1606.9 1063.0L1609.9 1063.0L1612.9 1063.0L1615.9 1063.0L1618.9 1063.0L1621.9 1063.0L1625.0 1063.0L1628.0 1063.0L1631.0 1063.0L1634.0 1063.0L1637.0 1063.0L1640.0 1063.0L1643.0 1063.0L1646.0 1063.0L1649.0 1063.0L1652.0 1063.0L1655.0 1063.0"/>
<path d="M367.0 1060.9L369.8 1059.7L372.6 1058.6L375.4 1057.6L378.3 1056.9L381.3 1056.3L384.2 1055.8L387.2 1055.5L390.2 1055.2L393.2 1055.1L396.2 1054.9L399.2 1054.9L402.2 1054.9L405.2 1055.0L408.2 1055.1L411.2 1055.3L414.2 1055.4L417.2 1055.5L420.2 1055.6L423.2 1055.6L426.2 1055.6L429.3 1055.5L432.3 1055.5L435.3 1055.6L438.2 1055.9L441.2 1056.4L444.2 1057.0L446.9 1058.0L449.9 1058.3L452.9 1058.3L455.9 1058.3L458.9 1058.3L462.0 1058.2L465.0 1058.2L468.0 1058.3L471.0 1058.5L473.9 1058.8L476.9 1058.5L479.9 1058.3L482.9 1058.3L485.9 1058.4L488.9 1058.5L491.9 1058.4L494.9 1058.1L497.7 1057.0L500.0 1055.1L502.0 1052.8L503.8 1050.5L506.0 1048.4L507.6 1045.9L508.9 1043.2L510.2 1040.4L511.6 1037.8L513.2 1035.3L515.0 1032.9L516.6 1030.3L518.0 1027.7L519.6 1025.1L521.1 1022.5L522.5 1019.8L523.8 1017.1L525.0 1014.4L526.2 1011.6L527.3 1008.8L528.3 1006.0L529.3 1003.2L530.3 1000.3L531.3 997.5L532.2 994.6L533.2 991.8L534.2 989.0L535.2 986.1L536.2 983.3L537.1 980.4L538.0 977.6L538.9 974.7L539.9 971.8L540.8 969.0L541.7 966.1L542.6 963.3L543.6 960.4L544.5 957.6L545.4 954.7L546.4 951.8L547.3 949.0L548.2 946.1L549.1 943.2L550.0 940.4L550.9 937.5L551.8 934.6L552.7 931.8L553.6 928.9L554.6 926.1L555.5 923.2L556.5 920.4L557.5 917.6L558.5 914.7L559.5 911.9L560.5 909.1L561.5 906.2L562.6 903.4L563.7 900.6L564.8 897.8L566.0 895.1L567.1 892.3L568.3 889.5L569.6 886.8L571.1 884.2L572.8 881.8L574.8 879.5L576.9 877.4L578.9 875.1L580.7 872.7L582.5 870.3L584.6 868.2L587.3 866.8L590.1 865.9L593.1 865.2L596.1 865.0L599.0 865.4L602.0 865.9L605.0 866.0L608.0 865.7L611.0 865.2L613.9 864.7L616.9 864.1L619.7 863.1L622.4 861.8L625.1 860.5L628.0 859.6L630.9 859.0L633.9 858.5L636.8 858.0L639.8 857.3L642.7 856.5L645.5 855.6L648.4 854.6L651.2 853.5L653.9 852.3L656.6 850.9L659.2 849.5L661.7 847.9L664.2 846.1L666.5 844.3L668.8 842.3L670.9 840.1L672.9 837.9L674.9 835.6L676.8 833.3L678.6 830.9L680.3 828.5L682.0 826.0L683.5 823.4L685.0 820.8L686.5 818.1L687.8 815.5L689.1 812.8L690.5 810.1L691.8 807.4L693.2 804.7L694.5 802.0L695.8 799.3L697.2 796.6L698.6 794.0L700.1 791.4L701.8 788.9L703.6 786.5L705.5 784.1L707.5 781.9L709.6 779.8L711.9 777.9L714.3 776.0L716.8 774.4L719.5 773.1L722.4 772.2L725.4 771.7L728.3 771.4L731.3 771.3L734.3 771.3L737.4 771.3L740.4 771.3L743.4 771.4L746.4 771.7L748.9 773.1L751.4 774.7L754.3 775.1L757.3 775.2L760.3 775.3L763.3 775.5L766.3 775.6L769.3 775.8L772.3 775.8L775.3 775.8L778.3 775.5L781.0 774.3L782.7 771.8L784.7 769.6L786.9 767.6L789.1 765.5L791.4 763.5L793.7 761.6L796.1 759.8L798.6 758.1L800.9 756.2L803.2 754.2L805.4 752.2L807.7 750.3L810.1 748.6L812.7 747.1L815.1 745.3L817.0 742.9L818.6 740.4L820.3 737.9L822.2 735.5L824.3 733.4L826.6 731.5L828.9 729.6L831.3 727.8L833.9 726.2L836.6 725.0L839.6 724.5L842.6 724.3L845.6 724.3L848.6 724.4L851.6 724.7L854.5 725.2L857.4 725.9L860.3 726.9L863.0 728.2L865.7 729.6L868.3 731.1L870.8 732.7L873.3 734.4L875.8 736.1L878.2 737.8L880.7 739.6L883.1 741.4L885.5 743.2L887.8 745.0L890.1 747.0L892.3 749.0L894.5 751.1L896.8 753.0L899.1 755.0L901.4 756.9L903.8 758.7L906.1 760.6L908.5 762.5L910.8 764.4L913.1 766.3L915.4 768.3L917.7 770.2L920.0 772.1L922.4 773.9L924.8 775.6L927.2 777.3L929.7 779.0L932.2 780.6L934.8 782.2L937.4 783.7L940.0 785.1L942.6 786.6L945.2 788.0L947.8 789.5L950.4 791.0L953.0 792.5L955.5 794.1L958.1 795.7L960.5 797.3L963.0 799.1L965.4 800.8L967.9 802.6L970.3 804.4L972.7 806.2L975.1 808.0L977.5 809.8L979.9 811.6L982.3 813.4L984.7 815.2L987.1 817.0L989.5 818.8L991.9 820.6L994.3 822.4L996.6 824.3L999.0 826.1L1001.3 828.0L1003.6 829.9L1005.9 831.9L1008.2 833.8L1010.4 835.8L1012.6 837.9L1014.8 839.9L1017.0 842.0L1019.1 844.2L1021.1 846.3L1023.2 848.5L1025.2 850.8L1027.2 853.0L1029.1 855.3L1031.1 857.6L1033.0 859.8L1035.0 862.1L1037.0 864.3L1039.0 866.5L1041.1 868.7L1043.2 870.9L1045.3 873.0L1047.4 875.1L1049.6 877.2L1051.8 879.2L1054.0 881.2L1056.3 883.2L1058.5 885.2L1060.8 887.2L1063.1 889.2L1065.3 891.1L1067.6 893.1L1069.9 895.0L1072.2 897.0L1074.5 898.9L1076.8 900.9L1079.0 902.8L1081.3 904.8L1083.6 906.7L1085.9 908.7L1088.2 910.6L1090.4 912.6L1092.7 914.5L1095.1 916.4L1097.4 918.3L1099.7 920.2L1102.1 922.0L1104.6 923.7L1107.0 925.5L1109.5 927.1L1112.0 928.7L1114.6 930.3L1117.2 931.8L1119.8 933.3L1122.4 934.7L1125.1 936.1L1127.7 937.5L1130.4 938.8L1133.1 940.1L1135.8 941.4L1138.6 942.7L1141.3 943.9L1144.0 945.2L1146.7 946.5L1149.5 947.7L1152.2 948.9L1154.9 950.2L1157.7 951.4L1160.4 952.6L1163.2 953.8L1165.9 955.0L1168.7 956.2L1171.4 957.4L1174.2 958.6L1176.9 959.8L1179.7 961.1L1182.4 962.3L1185.1 963.5L1187.9 964.8L1190.6 966.0L1193.4 967.3L1196.1 968.5L1198.8 969.7L1201.6 971.0L1204.3 972.2L1207.0 973.5L1209.8 974.7L1212.5 975.9L1215.3 977.2L1218.0 978.4L1220.8 979.6L1223.5 980.8L1226.3 982.0L1229.0 983.2L1231.8 984.4L1234.5 985.6L1237.3 986.7L1240.1 987.9L1242.9 989.0L1245.7 990.1L1248.4 991.2L1251.2 992.3L1254.0 993.4L1256.9 994.5L1259.7 995.6L1262.5 996.6L1265.3 997.7L1268.1 998.8L1270.9 999.8L1273.7 1000.9L1276.5 1002.0L1279.3 1003.1L1282.1 1004.2L1284.9 1005.3L1287.7 1006.5L1290.4 1007.6L1293.2 1008.8L1295.9 1010.0L1298.7 1011.2L1301.5 1012.4L1304.2 1013.6L1306.9 1014.8L1309.7 1016.1L1312.4 1017.3L1315.2 1018.5L1317.9 1019.7L1320.7 1020.9L1323.4 1022.1L1326.2 1023.3L1329.0 1024.5L1331.7 1025.6L1334.5 1026.8L1337.3 1027.9L1340.1 1029.0L1342.9 1030.1L1345.7 1031.2L1348.5 1032.3L1351.3 1033.4L1354.1 1034.4L1356.9 1035.5L1359.7 1036.5L1362.6 1037.5L1365.4 1038.5L1368.3 1039.4L1371.1 1040.3L1374.0 1041.2L1376.9 1042.0L1379.8 1042.8L1382.7 1043.6L1385.6 1044.3L1388.5 1045.0L1391.4 1045.6L1394.4 1046.2L1397.3 1046.7L1400.3 1047.3L1403.2 1047.8L1406.2 1048.3L1409.2 1048.7L1412.1 1049.2L1415.1 1049.6L1418.1 1050.0L1421.1 1050.4L1424.0 1050.8L1427.0 1051.2L1430.0 1051.6L1433.0 1052.0L1436.0 1052.4L1439.0 1052.7L1441.9 1053.1L1444.9 1053.4L1447.9 1053.7L1450.9 1054.1L1453.9 1054.4L1456.9 1054.7L1459.9 1054.9L1462.9 1055.2L1465.8 1055.5L1468.8 1055.7L1471.8 1056.0L1474.8 1056.2L1477.8 1056.5L1480.8 1056.7L1483.8 1056.9L1486.8 1057.1L1489.8 1057.3L1492.8 1057.5L1495.8 1057.7L1498.8 1057.9L1501.8 1058.0L1504.8 1058.2L1507.8 1058.4L1510.8 1058.5L1513.8 1058.7L1516.8 1058.8L1519.8 1058.9L1522.8 1059.1L1525.8 1059.2L1528.8 1059.3L1531.8 1059.4L1534.8 1059.5L1537.8 1059.5L1540.8 1059.6L1543.8 1059.7L1546.8 1059.7L1549.8 1059.8L1552.9 1059.8L1555.9 1059.9L1558.9 1059.9L1561.9 1059.9L1564.9 1060.0L1567.9 1060.0L1570.9 1060.0L1573.9 1060.0L1576.9 1060.0L1579.9 1060.0L1582.9 1060.0L1585.9 1060.0L1588.9 1060.0L1591.9 1060.0L1594.9 1060.0L1597.9 1060.0L1600.9 1060.0L1603.9 1060.0L1606.9 1060.0L1609.9 1060.0L1612.9 1060.1L1615.9 1060.1L1619.0 1060.2L1622.0 1060.2L1625.0 1060.3L1628.0 1060.3L1631.0 1060.4L1634.0 1060.5L1637.0 1060.5L1640.0 1060.6L1643.0 1060.7L1646.0 1060.8L1649.0 1060.8L1652.0 1060.9L1655.0 1061.0"/>
<path d="M367.0 1060.0L369.8 1058.9L372.6 1057.9L375.5 1056.9L378.4 1056.1L381.3 1055.5L384.3 1055.0L387.2 1054.7L390.2 1054.5L393.2 1054.3L396.2 1054.2L399.3 1054.2L402.3 1054.2L405.3 1054.3L408.3 1054.4L411.3 1054.5L414.3 1054.6L417.3 1054.7L420.3 1054.8L423.3 1054.8L426.3 1054.8L429.3 1054.7L432.3 1054.7L435.3 1054.8L438.3 1055.2L441.2 1055.7L444.2 1056.3L447.0 1057.2L450.0 1057.4L453.0 1057.4L456.0 1057.4L459.0 1057.4L462.0 1057.4L465.0 1057.4L468.0 1057.4L471.0 1057.8L474.0 1058.1L476.9 1057.8L479.9 1057.5L482.9 1057.5L485.9 1057.6L488.9 1057.6L491.9 1057.6L494.9 1057.3L497.6 1055.9L499.8 1053.9L501.8 1051.7L503.8 1049.4L506.0 1047.4L507.6 1044.9L508.9 1042.2L510.3 1039.5L511.8 1036.9L513.5 1034.5L515.2 1032.0L516.7 1029.4L518.2 1026.8L519.7 1024.2L521.2 1021.6L522.6 1018.9L523.9 1016.2L525.1 1013.4L526.2 1010.6L527.3 1007.8L528.3 1005.0L529.3 1002.2L530.3 999.3L531.2 996.5L532.2 993.6L533.2 990.8L534.2 988.0L535.2 985.1L536.1 982.3L537.1 979.4L538.0 976.6L538.9 973.7L539.8 970.9L540.7 968.0L541.7 965.1L542.6 962.3L543.5 959.4L544.5 956.6L545.4 953.7L546.3 950.8L547.2 948.0L548.1 945.1L549.0 942.3L549.9 939.4L550.8 936.5L551.7 933.7L552.6 930.8L553.6 927.9L554.5 925.1L555.5 922.3L556.5 919.4L557.5 916.6L558.5 913.8L559.5 910.9L560.5 908.1L561.5 905.3L562.6 902.5L563.7 899.7L564.8 896.9L566.0 894.1L567.2 891.4L568.4 888.6L569.8 885.9L571.3 883.3L573.0 880.9L574.9 878.5L576.8 876.3L578.7 873.9L580.4 871.5L582.3 869.1L584.5 867.0L587.1 865.6L589.9 864.6L592.8 863.9L595.8 863.5L598.8 863.7L601.8 864.0L604.8 864.0L607.8 863.6L610.8 863.2L613.7 862.6L616.6 862.0L619.5 861.1L622.2 859.8L624.9 858.5L627.8 857.6L630.7 857.0L633.7 856.4L636.6 855.8L639.5 855.1L642.4 854.3L645.3 853.4L648.1 852.4L650.9 851.2L653.5 849.8L656.2 848.3L658.7 846.7L661.2 845.0L663.5 843.1L665.8 841.2L667.9 839.1L670.0 836.9L671.9 834.6L673.8 832.2L675.6 829.8L677.3 827.4L679.0 824.8L680.5 822.3L682.0 819.7L683.5 817.0L684.8 814.4L686.1 811.6L687.3 808.9L688.6 806.2L689.9 803.5L691.2 800.8L692.5 798.0L693.7 795.3L695.0 792.6L696.3 789.9L697.6 787.2L698.9 784.5L700.1 781.7L701.3 779.0L702.5 776.2L703.7 773.4L704.8 770.7L706.0 767.9L707.5 765.3L709.3 762.9L711.2 760.5L713.1 758.2L715.0 755.9L717.0 753.7L719.0 751.4L721.1 749.3L723.3 747.2L725.5 745.1L728.0 743.6L730.8 742.5L733.7 741.8L736.7 741.5L739.7 741.4L742.7 741.4L745.7 741.4L748.7 741.5L751.7 741.5L754.7 741.6L757.7 741.8L760.7 741.9L763.7 742.0L766.7 742.0L769.7 741.9L772.7 741.3L775.2 739.7L777.4 737.7L779.8 735.8L782.0 733.8L784.1 731.6L786.1 729.4L787.9 727.0L789.6 724.6L791.2 722.0L792.7 719.4L794.1 716.7L795.5 714.1L796.9 711.4L798.4 708.8L799.8 706.2L801.3 703.5L802.7 700.9L804.3 698.3L806.1 695.9L808.2 693.8L810.4 691.8L812.6 689.7L814.5 687.4L816.2 684.9L817.9 682.4L819.5 679.9L821.3 677.5L823.4 675.3L825.6 673.3L828.1 671.6L830.6 669.9L833.1 668.3L835.7 666.8L838.5 665.7L841.4 665.0L844.4 664.7L847.4 665.0L850.4 665.4L853.3 666.0L856.2 666.9L858.9 668.1L861.5 669.6L864.0 671.2L866.4 673.1L868.8 675.0L871.0 676.9L873.3 678.9L875.4 681.0L877.6 683.1L879.6 685.3L881.7 687.5L883.8 689.6L885.9 691.8L888.1 693.9L890.3 695.9L892.6 697.8L894.9 699.7L897.3 701.6L899.6 703.4L902.0 705.3L904.4 707.1L906.7 709.0L909.0 710.9L911.3 712.8L913.7 714.7L916.0 716.6L918.4 718.5L920.7 720.3L923.1 722.1L925.6 723.9L928.0 725.6L930.4 727.3L932.9 729.0L935.4 730.7L937.9 732.4L940.3 734.1L942.8 735.7L945.3 737.5L947.7 739.2L950.1 741.0L952.4 742.8L954.8 744.7L957.1 746.6L959.4 748.6L961.6 750.5L963.9 752.5L966.1 754.6L968.3 756.6L970.5 758.6L972.7 760.6L975.0 762.6L977.2 764.7L979.4 766.7L981.7 768.7L983.9 770.7L986.2 772.6L988.5 774.6L990.7 776.5L993.0 778.5L995.3 780.4L997.6 782.3L999.9 784.3L1002.2 786.3L1004.4 788.2L1006.6 790.3L1008.8 792.3L1011.0 794.4L1013.2 796.5L1015.3 798.6L1017.3 800.8L1019.4 803.0L1021.4 805.2L1023.3 807.4L1025.3 809.7L1027.2 812.0L1029.2 814.3L1031.1 816.6L1033.0 818.9L1035.0 821.2L1036.9 823.5L1038.8 825.8L1040.8 828.1L1042.7 830.4L1044.6 832.7L1046.5 835.0L1048.3 837.4L1050.2 839.8L1052.0 842.2L1053.8 844.6L1055.5 847.0L1057.3 849.4L1059.1 851.8L1060.8 854.2L1062.7 856.6L1064.5 858.9L1066.4 861.2L1068.4 863.5L1070.4 865.8L1072.4 868.0L1074.5 870.2L1076.5 872.3L1078.6 874.5L1080.8 876.6L1082.9 878.7L1085.0 880.8L1087.2 882.9L1089.4 885.0L1091.6 887.0L1093.7 889.1L1095.9 891.1L1098.2 893.1L1100.4 895.2L1102.6 897.2L1104.9 899.1L1107.2 901.1L1109.4 903.1L1111.7 905.0L1114.1 906.9L1116.4 908.8L1118.8 910.6L1121.1 912.5L1123.5 914.3L1125.9 916.0L1128.4 917.8L1130.8 919.5L1133.3 921.3L1135.7 923.0L1138.2 924.7L1140.7 926.4L1143.2 928.1L1145.7 929.8L1148.2 931.4L1150.7 933.0L1153.2 934.7L1155.8 936.3L1158.3 937.8L1160.9 939.3L1163.5 940.8L1166.1 942.3L1168.7 943.8L1171.4 945.2L1174.0 946.7L1176.6 948.1L1179.3 949.5L1181.9 950.9L1184.6 952.3L1187.3 953.7L1189.9 955.0L1192.6 956.3L1195.3 957.7L1198.0 959.0L1200.7 960.3L1203.5 961.5L1206.2 962.8L1208.9 964.1L1211.6 965.3L1214.4 966.6L1217.1 967.8L1219.8 969.1L1222.6 970.3L1225.3 971.5L1228.1 972.7L1230.8 973.9L1233.6 975.1L1236.3 976.3L1239.1 977.5L1241.9 978.6L1244.7 979.7L1247.5 980.8L1250.3 981.9L1253.1 983.0L1255.9 984.1L1258.7 985.1L1261.5 986.2L1264.3 987.3L1267.1 988.3L1269.9 989.4L1272.7 990.5L1275.5 991.6L1278.3 992.7L1281.1 993.8L1283.9 995.0L1286.6 996.2L1289.4 997.4L1292.1 998.6L1294.8 999.9L1297.5 1001.2L1300.2 1002.5L1302.9 1003.8L1305.6 1005.1L1308.3 1006.5L1311.0 1007.8L1313.7 1009.1L1316.4 1010.4L1319.1 1011.7L1321.8 1013.0L1324.5 1014.3L1327.3 1015.5L1330.0 1016.7L1332.8 1017.9L1335.5 1019.1L1338.3 1020.3L1341.1 1021.4L1343.9 1022.5L1346.7 1023.6L1349.5 1024.7L1352.3 1025.7L1355.1 1026.8L1357.9 1027.8L1360.7 1028.8L1363.6 1029.8L1366.4 1030.8L1369.3 1031.7L1372.1 1032.6L1375.0 1033.6L1377.9 1034.4L1380.7 1035.3L1383.6 1036.2L1386.5 1037.0L1389.4 1037.8L1392.3 1038.5L1395.2 1039.3L1398.1 1040.0L1401.0 1040.7L1404.0 1041.4L1406.9 1042.1L1409.8 1042.8L1412.7 1043.4L1415.7 1044.0L1418.6 1044.6L1421.6 1045.2L1424.5 1045.8L1427.5 1046.4L1430.4 1046.9L1433.4 1047.4L1436.3 1048.0L1439.3 1048.5L1442.3 1048.9L1445.2 1049.4L1448.2 1049.9L1451.2 1050.3L1454.1 1050.7L1457.1 1051.2L1460.1 1051.5L1463.1 1051.9L1466.0 1052.3L1469.0 1052.7L1472.0 1053.0L1475.0 1053.3L1478.0 1053.7L1481.0 1054.0L1484.0 1054.3L1487.0 1054.5L1489.9 1054.8L1492.9 1055.1L1495.9 1055.3L1498.9 1055.5L1501.9 1055.8L1504.9 1056.0L1507.9 1056.2L1510.9 1056.4L1513.9 1056.6L1516.9 1056.7L1519.9 1056.9L1522.9 1057.1L1525.9 1057.2L1528.9 1057.3L1531.9 1057.4L1534.9 1057.5L1537.9 1057.6L1540.9 1057.7L1543.9 1057.8L1546.9 1057.8L1549.9 1057.9L1552.9 1057.9L1555.9 1057.9L1558.9 1057.9L1561.9 1057.9L1564.9 1057.9L1567.9 1057.8L1570.9 1057.8L1574.0 1057.7L1577.0 1057.7L1580.0 1057.6L1583.0 1057.5L1586.0 1057.5L1589.0 1057.4L1592.0 1057.3L1595.0 1057.3L1598.0 1057.2L1601.0 1057.2L1604.0 1057.1L1607.0 1057.1L1610.0 1057.1L1613.0 1057.1L1616.0 1057.2L1619.0 1057.3L1622.0 1057.4L1625.0 1057.5L1628.0 1057.6L1631.0 1057.7L1634.0 1057.9L1637.0 1058.0L1640.0 1058.2L1643.0 1058.3L1646.0 1058.5L1649.0 1058.7L1652.0 1058.8L1655.0 1059.0"/>
<path d="M367.0 1059.1L369.8 1058.1L372.6 1057.1L375.5 1056.2L378.4 1055.4L381.3 1054.7L384.3 1054.2L387.3 1053.9L390.3 1053.7L393.3 1053.6L396.3 1053.5L399.3 1053.5L402.3 1053.5L405.3 1053.6L408.3 1053.7L411.3 1053.8L414.3 1053.8L417.3 1053.9L420.3 1054.0L423.3 1054.0L426.3 1053.9L429.3 1053.9L432.3 1053.9L435.3 1054.0L438.3 1054.4L441.2 1055.0L444.1 1055.7L447.0 1056.4L450.0 1056.6L453.0 1056.6L456.0 1056.6L459.0 1056.5L462.0 1056.5L465.0 1056.5L468.0 1056.6L471.0 1057.0L474.0 1057.5L476.9 1057.0L479.9 1056.6L482.9 1056.6L485.9 1056.7L488.9 1056.8L491.9 1056.8L494.9 1056.4L497.4 1054.9L499.6 1052.8L501.6 1050.6L503.6 1048.4L505.9 1046.4L507.6 1043.9L508.9 1041.3L510.3 1038.6L512.0 1036.1L513.7 1033.7L515.3 1031.1L516.8 1028.5L518.3 1025.9L519.8 1023.3L521.3 1020.7L522.6 1018.0L523.9 1015.3L525.1 1012.5L526.2 1009.7L527.2 1006.9L528.3 1004.1L529.3 1001.3L530.2 998.4L531.2 995.6L532.1 992.7L533.1 989.9L534.1 987.1L535.1 984.2L536.0 981.4L537.0 978.5L537.9 975.7L538.8 972.8L539.7 970.0L540.7 967.1L541.6 964.2L542.5 961.4L543.4 958.5L544.4 955.7L545.3 952.8L546.2 950.0L547.1 947.1L548.0 944.2L548.9 941.4L549.8 938.5L550.7 935.6L551.6 932.8L552.5 929.9L553.5 927.1L554.5 924.2L555.4 921.4L556.4 918.6L557.4 915.7L558.4 912.9L559.4 910.1L560.4 907.2L561.5 904.4L562.5 901.6L563.7 898.8L564.8 896.1L566.0 893.3L567.2 890.5L568.5 887.8L569.8 885.1L571.3 882.5L573.0 880.0L574.8 877.6L576.6 875.2L578.4 872.8L580.1 870.4L582.0 868.0L584.2 866.0L586.8 864.5L589.5 863.4L592.4 862.5L595.4 862.0L598.4 862.0L601.4 862.1L604.4 862.0L607.4 861.6L610.3 861.1L613.3 860.6L616.2 860.0L619.1 859.1L621.9 858.0L624.6 856.7L627.4 855.7L630.3 855.0L633.3 854.4L636.2 853.7L639.1 852.9L641.9 852.0L644.8 851.0L647.5 849.8L650.2 848.4L652.7 846.8L655.2 845.1L657.6 843.2L659.8 841.3L662.0 839.2L664.0 837.0L666.0 834.7L667.9 832.4L669.6 829.9L671.4 827.5L673.0 825.0L674.6 822.4L676.0 819.8L677.4 817.1L678.8 814.4L680.0 811.7L681.1 808.9L682.2 806.1L683.2 803.3L684.2 800.4L685.1 797.6L686.0 794.7L686.9 791.9L687.7 789.0L688.5 786.1L689.4 783.2L690.2 780.3L691.0 777.4L691.9 774.5L692.8 771.7L693.8 768.8L694.8 766.0L695.8 763.2L696.9 760.4L698.1 757.6L699.2 754.8L700.3 752.1L701.3 749.2L702.4 746.4L703.5 743.6L704.8 740.9L706.2 738.3L707.6 735.6L708.9 732.9L710.1 730.2L711.5 727.5L713.0 724.9L714.8 722.5L716.6 720.1L718.5 717.8L720.5 715.5L722.6 713.3L724.7 711.2L726.9 709.2L729.1 707.2L731.4 705.2L733.8 703.4L736.4 701.9L739.0 700.5L741.8 699.3L744.6 698.1L747.4 697.0L750.2 696.1L753.1 695.2L756.0 694.4L758.8 693.5L761.7 692.8L764.6 691.9L767.4 690.7L770.0 689.3L772.6 687.7L775.0 685.9L777.3 684.0L779.6 682.0L781.7 680.0L783.9 677.9L786.1 675.8L788.2 673.7L790.3 671.6L792.4 669.4L794.3 667.1L796.3 664.8L798.1 662.4L800.0 660.1L801.7 657.6L803.4 655.1L805.1 652.6L806.7 650.1L808.4 647.6L810.0 645.1L811.8 642.7L813.6 640.3L815.5 638.0L817.4 635.7L819.3 633.3L820.9 630.8L822.5 628.2L824.2 625.8L826.3 623.6L828.6 621.7L831.1 620.0L833.6 618.3L836.1 616.7L838.7 615.2L841.3 613.6L844.1 612.7L847.1 612.7L850.0 613.6L852.7 614.7L855.5 616.0L858.2 617.2L860.9 618.4L863.7 619.6L866.4 620.9L869.1 622.3L871.7 623.8L874.2 625.5L876.6 627.2L878.9 629.1L881.3 631.0L883.6 632.9L885.9 634.8L888.2 636.8L890.5 638.7L892.7 640.7L894.9 642.7L897.2 644.7L899.4 646.8L901.6 648.8L903.8 650.8L906.1 652.8L908.3 654.8L910.6 656.7L912.8 658.7L915.0 660.8L917.1 662.9L919.2 665.0L921.3 667.2L923.3 669.4L925.3 671.6L927.3 673.8L929.4 676.0L931.4 678.2L933.5 680.4L935.6 682.6L937.7 684.7L939.8 686.8L942.0 688.8L944.2 690.9L946.4 692.9L948.6 694.9L950.8 696.9L953.1 698.9L955.3 700.9L957.6 702.9L959.8 704.9L962.1 706.9L964.4 708.8L966.6 710.8L968.8 712.8L971.1 714.8L973.3 716.9L975.5 718.9L977.6 721.0L979.8 723.1L981.9 725.2L983.9 727.4L986.0 729.6L988.0 731.8L989.9 734.1L991.8 736.4L993.7 738.8L995.5 741.1L997.3 743.5L999.1 745.9L1000.9 748.4L1002.6 750.8L1004.3 753.3L1006.0 755.8L1007.6 758.3L1009.3 760.8L1011.0 763.3L1012.6 765.8L1014.3 768.3L1016.0 770.8L1017.7 773.2L1019.4 775.7L1021.2 778.1L1023.0 780.5L1024.9 782.8L1026.8 785.1L1028.7 787.4L1030.7 789.7L1032.7 791.9L1034.7 794.1L1036.7 796.3L1038.8 798.5L1040.8 800.7L1042.9 802.9L1044.9 805.1L1047.0 807.3L1049.0 809.5L1050.9 811.7L1052.8 814.0L1054.7 816.4L1056.5 818.7L1058.3 821.1L1060.1 823.6L1061.8 826.0L1063.5 828.5L1065.2 831.0L1066.8 833.5L1068.5 836.0L1070.2 838.5L1071.9 840.9L1073.6 843.4L1075.4 845.8L1077.1 848.2L1079.0 850.6L1080.8 853.0L1082.7 855.3L1084.6 857.6L1086.6 859.8L1088.6 862.1L1090.6 864.3L1092.7 866.5L1094.7 868.7L1096.8 870.8L1098.9 873.0L1101.0 875.2L1103.0 877.3L1105.1 879.5L1107.2 881.7L1109.3 883.8L1111.4 886.0L1113.5 888.1L1115.6 890.3L1117.7 892.4L1119.8 894.5L1121.9 896.6L1124.1 898.7L1126.3 900.8L1128.4 902.8L1130.6 904.9L1132.9 906.9L1135.1 908.9L1137.4 910.9L1139.6 912.8L1141.9 914.7L1144.3 916.6L1146.6 918.5L1149.0 920.3L1151.4 922.0L1153.9 923.8L1156.4 925.4L1158.9 927.1L1161.4 928.7L1164.0 930.3L1166.5 931.8L1169.1 933.4L1171.7 934.9L1174.2 936.5L1176.8 938.0L1179.4 939.5L1182.0 940.9L1184.7 942.4L1187.3 943.8L1190.0 945.1L1192.6 946.5L1195.3 947.8L1198.0 949.2L1200.6 950.5L1203.3 951.9L1206.0 953.3L1208.6 954.7L1211.2 956.1L1213.9 957.6L1216.5 959.0L1219.1 960.5L1221.7 962.0L1224.3 963.4L1227.0 964.9L1229.6 966.3L1232.3 967.7L1234.9 969.1L1237.6 970.5L1240.3 971.8L1243.0 973.1L1245.7 974.4L1248.4 975.6L1251.2 976.8L1253.9 978.0L1256.7 979.2L1259.4 980.4L1262.2 981.6L1265.0 982.7L1267.7 983.9L1270.5 985.1L1273.3 986.2L1276.0 987.4L1278.8 988.6L1281.5 989.8L1284.3 991.0L1287.0 992.3L1289.7 993.5L1292.5 994.8L1295.2 996.1L1297.9 997.4L1300.6 998.7L1303.2 1000.1L1305.9 1001.4L1308.6 1002.7L1311.3 1004.1L1314.0 1005.4L1316.7 1006.7L1319.4 1008.0L1322.1 1009.2L1324.9 1010.5L1327.6 1011.7L1330.4 1012.9L1333.2 1014.0L1335.9 1015.1L1338.7 1016.2L1341.5 1017.3L1344.3 1018.4L1347.2 1019.4L1350.0 1020.4L1352.8 1021.4L1355.6 1022.4L1358.5 1023.4L1361.3 1024.3L1364.2 1025.2L1367.0 1026.2L1369.9 1027.1L1372.8 1028.0L1375.6 1028.9L1378.5 1029.7L1381.4 1030.6L1384.3 1031.5L1387.1 1032.3L1390.0 1033.1L1392.9 1033.9L1395.8 1034.7L1398.7 1035.5L1401.6 1036.3L1404.5 1037.0L1407.4 1037.8L1410.3 1038.5L1413.3 1039.2L1416.2 1039.9L1419.1 1040.6L1422.0 1041.2L1425.0 1041.9L1427.9 1042.5L1430.9 1043.1L1433.8 1043.7L1436.7 1044.3L1439.7 1044.8L1442.6 1045.4L1445.6 1045.9L1448.5 1046.4L1451.5 1046.9L1454.5 1047.4L1457.4 1047.9L1460.4 1048.4L1463.4 1048.8L1466.3 1049.2L1469.3 1049.7L1472.3 1050.1L1475.3 1050.5L1478.2 1050.8L1481.2 1051.2L1484.2 1051.6L1487.2 1051.9L1490.2 1052.3L1493.2 1052.6L1496.1 1052.9L1499.1 1053.2L1502.1 1053.5L1505.1 1053.7L1508.1 1054.0L1511.1 1054.2L1514.1 1054.5L1517.1 1054.7L1520.1 1054.9L1523.1 1055.1L1526.1 1055.2L1529.1 1055.4L1532.1 1055.5L1535.1 1055.6L1538.1 1055.7L1541.1 1055.8L1544.1 1055.8L1547.1 1055.9L1550.1 1055.9L1553.1 1055.9L1556.1 1055.9L1559.1 1055.9L1562.1 1055.8L1565.1 1055.8L1568.1 1055.7L1571.1 1055.6L1574.1 1055.5L1577.1 1055.4L1580.1 1055.2L1583.1 1055.1L1586.1 1054.9L1589.1 1054.8L1592.1 1054.7L1595.1 1054.5L1598.1 1054.4L1601.1 1054.4L1604.1 1054.3L1607.1 1054.2L1610.1 1054.2L1613.1 1054.2L1616.1 1054.3L1619.1 1054.4L1622.1 1054.5L1625.1 1054.7L1628.1 1054.9L1631.1 1055.1L1634.1 1055.3L1637.0 1055.5L1640.0 1055.8L1643.0 1056.0L1646.0 1056.3L1649.0 1056.5L1652.0 1056.8L1655.0 1057.0"/>
<path d="M367.0 1058.3L369.8 1057.3L372.7 1056.3L375.6 1055.5L378.5 1054.7L381.4 1053.9L384.3 1053.4L387.3 1053.0L390.3 1052.9L393.3 1052.8L396.3 1052.8L399.3 1052.8L402.3 1052.8L405.3 1052.9L408.3 1052.9L411.3 1053.0L414.3 1053.1L417.3 1053.1L420.3 1053.2L423.4 1053.2L426.4 1053.1L429.4 1053.0L432.4 1053.0L435.4 1053.2L438.3 1053.6L441.3 1054.3L444.2 1055.0L447.1 1055.7L450.1 1055.7L453.1 1055.7L456.1 1055.7L459.1 1055.7L462.1 1055.7L465.1 1055.7L468.1 1055.8L471.1 1056.3L474.1 1056.8L477.0 1056.2L480.0 1055.8L483.0 1055.8L486.0 1055.9L489.0 1056.0L492.0 1056.0L494.9 1055.5L497.3 1053.8L499.3 1051.6L501.4 1049.4L503.6 1047.3L505.9 1045.4L507.6 1043.0L509.0 1040.3L510.5 1037.7L512.2 1035.3L513.9 1032.8L515.5 1030.2L517.0 1027.6L518.5 1025.0L520.0 1022.4L521.4 1019.8L522.7 1017.1L524.0 1014.3L525.1 1011.5L526.2 1008.7L527.2 1005.9L528.3 1003.1L529.2 1000.3L530.2 997.4L531.1 994.5L532.1 991.7L533.1 988.9L534.1 986.0L535.1 983.2L536.0 980.3L536.9 977.5L537.9 974.6L538.8 971.8L539.7 968.9L540.6 966.0L541.6 963.2L542.5 960.3L543.4 957.5L544.3 954.6L545.3 951.8L546.2 948.9L547.1 946.0L548.0 943.2L548.9 940.3L549.8 937.4L550.7 934.6L551.6 931.7L552.5 928.8L553.5 926.0L554.5 923.2L555.4 920.3L556.4 917.5L557.4 914.6L558.4 911.8L559.4 909.0L560.4 906.2L561.5 903.3L562.6 900.5L563.7 897.8L564.9 895.0L566.1 892.2L567.3 889.5L568.6 886.8L570.0 884.1L571.5 881.5L573.1 879.0L574.8 876.5L576.5 874.0L578.2 871.5L579.9 869.1L581.8 866.8L584.1 864.7L586.6 863.2L589.4 862.0L592.3 861.1L595.2 860.5L598.2 860.3L601.2 860.2L604.2 860.0L607.2 859.6L610.1 859.1L613.1 858.5L616.0 857.9L618.9 857.1L621.7 856.0L624.4 854.7L627.3 853.7L630.2 853.0L633.1 852.3L636.0 851.5L638.8 850.6L641.7 849.5L644.4 848.3L647.0 846.8L649.6 845.2L651.9 843.4L654.2 841.4L656.3 839.3L658.3 837.0L660.2 834.7L662.0 832.3L663.7 829.8L665.3 827.2L666.8 824.6L668.1 822.0L669.4 819.3L670.7 816.6L672.0 813.8L673.3 811.1L674.6 808.4L675.9 805.7L677.1 802.9L678.2 800.2L679.3 797.4L680.5 794.6L681.5 791.8L682.6 789.0L683.7 786.2L684.8 783.4L685.9 780.6L686.9 777.8L687.9 774.9L688.8 772.0L689.6 769.1L690.4 766.2L691.1 763.3L691.8 760.4L692.6 757.5L693.5 754.7L694.4 751.8L695.3 748.9L696.1 746.0L696.8 743.1L697.6 740.2L698.3 737.3L699.0 734.4L699.8 731.5L700.8 728.6L701.9 725.8L703.0 723.0L704.1 720.2L705.3 717.5L706.4 714.7L707.5 711.9L708.5 709.1L709.6 706.2L710.8 703.5L712.1 700.8L713.5 698.2L715.0 695.5L716.6 693.0L718.3 690.5L720.2 688.2L722.1 685.9L724.0 683.5L725.8 681.1L727.6 678.7L729.6 676.4L731.7 674.4L734.1 672.5L736.5 670.6L738.9 668.9L741.5 667.4L744.1 665.9L746.8 664.5L749.4 663.1L752.1 661.7L754.7 660.2L757.2 658.5L759.6 656.7L761.9 654.8L764.2 652.9L766.4 650.8L768.6 648.8L770.7 646.6L772.8 644.5L774.8 642.2L776.8 640.0L778.7 637.6L780.6 635.3L782.4 633.0L784.4 630.7L786.3 628.4L788.3 626.1L790.2 623.8L792.1 621.5L793.9 619.1L795.6 616.6L797.3 614.1L798.9 611.6L800.5 609.0L802.0 606.4L803.5 603.8L805.0 601.2L806.4 598.6L808.0 596.0L809.6 593.5L811.3 591.0L813.0 588.5L814.6 586.0L816.2 583.4L817.7 580.8L819.2 578.2L820.6 575.6L822.1 573.0L823.6 570.4L825.0 567.7L826.5 565.1L828.2 562.6L830.2 560.3L832.3 558.2L834.6 556.3L836.9 554.4L839.3 552.6L841.8 550.9L844.3 549.3L847.0 547.9L849.7 546.7L852.6 545.7L855.5 545.2L858.5 545.0L861.5 545.2L864.5 545.7L867.4 546.5L870.2 547.5L872.9 548.8L875.6 550.2L878.1 551.8L880.6 553.5L883.0 555.3L885.4 557.1L887.8 559.0L890.1 560.9L892.4 562.8L894.7 564.7L897.0 566.7L899.2 568.8L901.4 570.8L903.5 572.9L905.6 575.1L907.6 577.3L909.6 579.5L911.6 581.8L913.5 584.1L915.4 586.4L917.3 588.8L919.1 591.1L921.0 593.5L922.8 595.9L924.6 598.3L926.5 600.6L928.3 603.0L930.2 605.4L932.0 607.7L933.9 610.1L935.8 612.4L937.8 614.6L939.8 616.9L941.8 619.1L943.9 621.2L946.0 623.3L948.2 625.3L950.4 627.4L952.7 629.3L954.9 631.3L957.2 633.3L959.4 635.2L961.6 637.2L963.7 639.3L965.8 641.4L967.9 643.6L969.8 645.8L971.7 648.1L973.6 650.4L975.4 652.8L977.1 655.2L978.9 657.7L980.6 660.2L982.2 662.7L983.9 665.2L985.5 667.7L987.1 670.3L988.6 672.8L990.2 675.4L991.7 678.0L993.2 680.6L994.7 683.2L996.2 685.8L997.6 688.4L999.1 691.1L1000.6 693.7L1002.0 696.3L1003.4 698.9L1004.9 701.6L1006.3 704.2L1007.8 706.8L1009.3 709.5L1010.8 712.1L1012.2 714.7L1013.8 717.3L1015.3 719.9L1016.8 722.4L1018.4 725.0L1019.9 727.6L1021.5 730.1L1023.1 732.6L1024.8 735.2L1026.4 737.7L1028.1 740.2L1029.8 742.6L1031.5 745.1L1033.2 747.5L1035.0 750.0L1036.8 752.4L1038.5 754.8L1040.3 757.3L1042.1 759.7L1043.8 762.1L1045.6 764.6L1047.3 767.0L1049.1 769.4L1050.9 771.9L1052.6 774.3L1054.4 776.7L1056.2 779.1L1058.0 781.5L1059.8 783.9L1061.6 786.3L1063.4 788.7L1065.2 791.2L1067.0 793.6L1068.7 796.0L1070.5 798.4L1072.2 800.9L1074.0 803.3L1075.7 805.8L1077.4 808.2L1079.2 810.7L1080.9 813.1L1082.6 815.6L1084.4 818.0L1086.2 820.4L1088.0 822.8L1089.8 825.2L1091.7 827.6L1093.5 829.9L1095.3 832.3L1097.1 834.7L1098.9 837.1L1100.6 839.5L1102.3 842.0L1104.0 844.4L1105.7 846.9L1107.5 849.3L1109.2 851.7L1111.0 854.1L1112.8 856.5L1114.6 858.9L1116.5 861.2L1118.4 863.5L1120.4 865.8L1122.3 868.1L1124.3 870.4L1126.3 872.6L1128.3 874.8L1130.3 877.0L1132.4 879.1L1134.5 881.2L1136.7 883.3L1138.8 885.4L1141.0 887.4L1143.2 889.5L1145.5 891.5L1147.7 893.5L1150.0 895.4L1152.2 897.4L1154.5 899.4L1156.7 901.4L1159.0 903.4L1161.3 905.3L1163.5 907.3L1165.8 909.2L1168.1 911.2L1170.4 913.1L1172.8 915.0L1175.1 916.9L1177.4 918.8L1179.8 920.6L1182.2 922.5L1184.5 924.3L1186.9 926.2L1189.3 928.0L1191.7 929.8L1194.1 931.5L1196.6 933.3L1199.0 935.0L1201.5 936.8L1203.9 938.5L1206.4 940.2L1208.9 941.9L1211.4 943.5L1213.9 945.2L1216.4 946.8L1219.0 948.4L1221.5 949.9L1224.1 951.4L1226.8 952.8L1229.4 954.2L1232.1 955.6L1234.8 957.0L1237.4 958.3L1240.1 959.6L1242.8 960.9L1245.6 962.2L1248.3 963.5L1251.0 964.8L1253.7 966.1L1256.4 967.3L1259.1 968.6L1261.9 969.9L1264.6 971.2L1267.3 972.5L1270.0 973.8L1272.7 975.1L1275.4 976.4L1278.1 977.7L1280.8 979.1L1283.5 980.4L1286.2 981.8L1288.8 983.1L1291.5 984.5L1294.2 985.9L1296.8 987.3L1299.4 988.7L1302.1 990.2L1304.7 991.6L1307.4 993.1L1310.0 994.5L1312.6 995.9L1315.3 997.3L1317.9 998.7L1320.6 1000.1L1323.3 1001.5L1326.0 1002.8L1328.7 1004.1L1331.4 1005.3L1334.2 1006.6L1336.9 1007.8L1339.7 1008.9L1342.4 1010.1L1345.2 1011.2L1348.0 1012.3L1350.8 1013.4L1353.6 1014.5L1356.4 1015.5L1359.3 1016.6L1362.1 1017.6L1364.9 1018.6L1367.7 1019.6L1370.6 1020.6L1373.4 1021.5L1376.3 1022.5L1379.1 1023.4L1382.0 1024.3L1384.9 1025.2L1387.8 1026.1L1390.6 1026.9L1393.5 1027.8L1396.4 1028.6L1399.3 1029.4L1402.2 1030.2L1405.1 1030.9L1408.0 1031.7L1410.9 1032.5L1413.8 1033.2L1416.7 1033.9L1419.7 1034.7L1422.6 1035.4L1425.5 1036.1L1428.4 1036.8L1431.3 1037.5L1434.3 1038.2L1437.2 1038.9L1440.1 1039.6L1443.0 1040.2L1446.0 1040.9L1448.9 1041.5L1451.8 1042.2L1454.8 1042.8L1457.7 1043.4L1460.7 1044.0L1463.6 1044.5L1466.6 1045.1L1469.5 1045.6L1472.5 1046.1L1475.5 1046.6L1478.4 1047.0L1481.4 1047.5L1484.4 1047.9L1487.3 1048.4L1490.3 1048.8L1493.3 1049.1L1496.3 1049.5L1499.3 1049.9L1502.2 1050.2L1505.2 1050.5L1508.2 1050.8L1511.2 1051.1L1514.2 1051.4L1517.2 1051.6L1520.2 1051.8L1523.2 1052.0L1526.2 1052.2L1529.2 1052.4L1532.2 1052.5L1535.2 1052.7L1538.2 1052.8L1541.2 1052.8L1544.2 1052.9L1547.2 1052.9L1550.2 1052.9L1553.2 1052.9L1556.2 1052.9L1559.2 1052.9L1562.2 1052.8L1565.2 1052.8L1568.2 1052.7L1571.2 1052.5L1574.2 1052.4L1577.2 1052.3L1580.2 1052.1L1583.2 1052.0L1586.2 1051.8L1589.2 1051.7L1592.2 1051.6L1595.2 1051.5L1598.2 1051.4L1601.2 1051.3L1604.2 1051.3L1607.2 1051.3L1610.2 1051.3L1613.2 1051.4L1616.2 1051.5L1619.2 1051.7L1622.2 1051.9L1625.2 1052.2L1628.2 1052.5L1631.2 1052.9L1634.2 1053.2L1637.1 1053.6L1640.1 1054.0L1643.1 1054.4L1646.1 1054.8L1649.0 1055.2L1652.0 1055.6L1655.0 1056.0"/>
<path d="M367.0 1057.4L369.9 1056.5L372.7 1055.6L375.6 1054.7L378.5 1053.9L381.4 1053.1L384.3 1052.6L387.3 1052.2L390.3 1052.1L393.3 1052.1L396.3 1052.1L399.3 1052.1L402.3 1052.1L405.3 1052.1L408.4 1052.2L411.4 1052.2L414.4 1052.3L417.4 1052.3L420.4 1052.3L423.4 1052.3L426.4 1052.3L429.4 1052.2L432.4 1052.2L435.4 1052.4L438.3 1052.8L441.3 1053.6L444.2 1054.3L447.1 1054.9L450.1 1054.9L453.1 1054.9L456.1 1054.8L459.1 1054.8L462.1 1054.8L465.1 1054.8L468.1 1055.0L471.1 1055.5L474.0 1056.1L477.0 1055.5L479.9 1055.0L482.9 1055.0L485.9 1055.1L488.9 1055.2L491.9 1055.2L494.9 1054.7L497.1 1052.8L499.0 1050.5L501.2 1048.4L503.4 1046.4L505.8 1044.6L507.5 1042.1L509.0 1039.5L510.6 1037.0L512.4 1034.6L514.0 1032.1L515.5 1029.5L517.0 1026.8L518.6 1024.3L520.0 1021.6L521.4 1019.0L522.7 1016.3L523.9 1013.5L525.1 1010.7L526.1 1007.9L527.2 1005.1L528.2 1002.3L529.1 999.4L530.1 996.6L531.0 993.7L532.0 990.9L533.0 988.1L534.0 985.2L535.0 982.4L535.9 979.5L536.8 976.7L537.8 973.8L538.7 970.9L539.6 968.1L540.5 965.2L541.4 962.4L542.4 959.5L543.3 956.7L544.2 953.8L545.2 950.9L546.1 948.1L547.0 945.2L547.9 942.4L548.8 939.5L549.7 936.6L550.6 933.7L551.5 930.9L552.4 928.0L553.4 925.2L554.4 922.4L555.4 919.5L556.3 916.7L557.3 913.8L558.3 911.0L559.3 908.2L560.4 905.4L561.4 902.5L562.5 899.8L563.7 897.0L564.9 894.2L566.1 891.5L567.4 888.8L568.7 886.0L570.0 883.4L571.5 880.7L573.0 878.1L574.5 875.6L576.1 873.0L577.8 870.5L579.5 868.0L581.5 865.8L583.7 863.7L586.2 862.1L588.9 860.8L591.7 859.8L594.6 859.0L597.6 858.6L600.6 858.4L603.6 858.1L606.5 857.6L609.5 857.1L612.4 856.5L615.4 855.9L618.3 855.1L621.1 854.1L623.9 853.0L626.7 851.9L629.6 851.1L632.5 850.3L635.3 849.4L638.2 848.3L640.9 847.1L643.5 845.7L646.0 844.0L648.3 842.1L650.5 840.0L652.5 837.7L654.3 835.3L656.0 832.8L657.5 830.3L659.0 827.7L660.5 825.0L661.9 822.4L663.2 819.7L664.5 817.0L665.8 814.3L667.0 811.5L668.2 808.8L669.4 806.0L670.7 803.3L671.9 800.5L673.1 797.8L674.2 795.0L675.3 792.2L676.4 789.4L677.4 786.6L678.5 783.7L679.5 780.9L680.5 778.1L681.5 775.2L682.4 772.4L683.3 769.5L684.2 766.7L685.1 763.8L685.9 760.9L686.7 758.0L687.5 755.1L688.3 752.2L689.1 749.3L689.9 746.4L690.6 743.5L691.4 740.6L692.2 737.7L693.0 734.8L693.8 731.9L694.5 729.0L695.3 726.1L696.1 723.2L696.9 720.3L697.7 717.4L698.5 714.5L699.4 711.7L700.3 708.8L701.2 705.9L702.1 703.0L703.0 700.2L703.8 697.3L704.7 694.4L705.6 691.6L706.6 688.7L707.5 685.9L708.5 683.0L709.5 680.2L710.5 677.4L711.7 674.6L712.9 671.8L714.1 669.1L715.3 666.3L716.4 663.5L717.4 660.7L718.3 657.8L719.1 655.0L719.9 652.1L720.7 649.2L721.6 646.3L722.5 643.4L723.6 640.6L724.9 637.9L726.3 635.2L727.7 632.6L729.2 630.0L730.7 627.4L732.3 624.9L734.1 622.4L736.0 620.1L737.9 617.8L739.9 615.6L742.0 613.4L744.2 611.3L746.4 609.4L748.7 607.4L750.9 605.4L753.1 603.3L755.2 601.2L757.3 599.0L759.4 596.9L761.6 594.8L763.8 592.7L765.9 590.6L767.8 588.3L769.5 585.8L771.0 583.2L772.4 580.6L773.9 577.9L775.4 575.4L777.0 572.8L778.6 570.2L780.1 567.6L781.4 565.0L782.7 562.3L784.1 559.6L785.4 556.9L786.8 554.2L788.2 551.5L789.6 548.9L790.9 546.2L792.1 543.4L793.2 540.6L794.2 537.8L795.2 535.0L796.2 532.1L797.2 529.3L798.1 526.5L799.1 523.6L800.1 520.8L801.1 517.9L802.1 515.1L803.0 512.2L804.0 509.4L805.0 506.6L806.0 503.7L807.0 500.9L808.0 498.1L809.0 495.3L810.1 492.5L811.3 489.7L812.4 486.9L813.5 484.1L814.7 481.4L816.0 478.6L817.2 475.9L818.5 473.2L819.9 470.5L821.4 467.9L822.9 465.3L824.5 462.7L826.1 460.2L827.8 457.8L829.6 455.3L831.4 452.9L833.3 450.6L835.4 448.4L837.6 446.4L840.2 444.9L842.9 443.7L845.8 442.7L848.7 441.9L851.6 441.4L854.6 441.4L857.6 441.6L860.6 441.9L863.6 442.3L866.5 442.9L869.4 443.8L872.1 445.1L874.6 446.8L876.9 448.7L879.2 450.7L881.3 452.8L883.4 454.9L885.4 457.2L887.4 459.4L889.3 461.7L891.2 464.0L893.0 466.4L894.8 468.9L896.4 471.4L898.1 473.9L899.7 476.5L901.3 479.0L903.0 481.5L904.7 484.0L906.4 486.4L908.1 488.8L909.9 491.3L911.7 493.7L913.4 496.2L915.1 498.6L916.8 501.1L918.5 503.6L920.1 506.1L921.8 508.6L923.5 511.1L925.2 513.6L926.9 516.0L928.7 518.4L930.5 520.8L932.3 523.1L934.2 525.4L936.2 527.7L938.2 529.9L940.3 532.1L942.4 534.2L944.5 536.3L946.6 538.4L948.8 540.5L950.9 542.6L953.1 544.7L955.2 546.9L957.2 549.0L959.3 551.2L961.3 553.5L963.2 555.7L965.1 558.1L966.9 560.4L968.7 562.8L970.4 565.3L972.0 567.8L973.6 570.3L975.2 572.9L976.7 575.5L978.1 578.1L979.6 580.7L981.0 583.4L982.4 586.0L983.7 588.7L985.1 591.4L986.5 594.1L987.8 596.7L989.2 599.4L990.6 602.1L992.0 604.7L993.4 607.4L994.8 610.0L996.3 612.7L997.7 615.3L999.1 617.9L1000.5 620.6L1002.0 623.2L1003.4 625.9L1004.8 628.5L1006.2 631.2L1007.7 633.8L1009.1 636.5L1010.5 639.1L1011.9 641.7L1013.3 644.4L1014.7 647.1L1016.1 649.7L1017.5 652.4L1018.9 655.0L1020.2 657.7L1021.6 660.4L1022.9 663.1L1024.3 665.8L1025.6 668.5L1026.9 671.2L1028.3 673.8L1029.6 676.5L1030.9 679.2L1032.3 681.9L1033.6 684.6L1034.9 687.3L1036.2 690.0L1037.6 692.7L1039.0 695.4L1040.4 698.0L1041.8 700.7L1043.2 703.3L1044.7 705.9L1046.2 708.5L1047.7 711.1L1049.2 713.7L1050.8 716.3L1052.3 718.8L1053.9 721.4L1055.5 723.9L1057.0 726.5L1058.6 729.1L1060.1 731.6L1061.6 734.2L1063.1 736.8L1064.6 739.4L1066.1 742.0L1067.5 744.7L1069.0 747.3L1070.4 750.0L1071.8 752.6L1073.2 755.3L1074.6 757.9L1076.0 760.6L1077.4 763.2L1078.8 765.9L1080.2 768.5L1081.6 771.2L1083.0 773.9L1084.4 776.5L1085.8 779.2L1087.2 781.8L1088.6 784.5L1090.1 787.1L1091.5 789.7L1093.0 792.4L1094.4 795.0L1096.0 797.6L1097.5 800.1L1099.1 802.7L1100.6 805.2L1102.3 807.8L1103.9 810.3L1105.5 812.8L1107.2 815.3L1108.9 817.8L1110.5 820.3L1112.2 822.8L1114.0 825.2L1115.7 827.7L1117.4 830.1L1119.2 832.6L1120.9 835.0L1122.7 837.4L1124.4 839.9L1126.2 842.3L1128.0 844.7L1129.8 847.1L1131.7 849.4L1133.6 851.8L1135.5 854.0L1137.4 856.3L1139.5 858.5L1141.5 860.7L1143.6 862.9L1145.7 865.0L1147.8 867.1L1150.0 869.2L1152.2 871.2L1154.4 873.2L1156.7 875.2L1158.9 877.2L1161.2 879.2L1163.4 881.2L1165.7 883.1L1168.0 885.1L1170.3 887.0L1172.6 888.9L1174.9 890.9L1177.2 892.8L1179.4 894.8L1181.7 896.8L1183.9 898.8L1186.1 900.8L1188.4 902.8L1190.6 904.8L1192.8 906.9L1195.0 908.9L1197.2 911.0L1199.4 913.0L1201.6 915.0L1203.8 917.1L1206.0 919.1L1208.2 921.1L1210.5 923.1L1212.7 925.1L1215.0 927.1L1217.3 929.0L1219.6 930.9L1222.0 932.7L1224.4 934.5L1226.8 936.3L1229.2 938.1L1231.6 939.8L1234.1 941.5L1236.6 943.2L1239.1 944.8L1241.6 946.5L1244.1 948.1L1246.6 949.7L1249.2 951.3L1251.8 952.8L1254.4 954.3L1257.0 955.7L1259.7 957.1L1262.3 958.5L1265.0 959.9L1267.7 961.2L1270.4 962.6L1273.0 963.9L1275.7 965.3L1278.4 966.7L1281.0 968.1L1283.7 969.5L1286.3 970.9L1288.9 972.4L1291.5 973.9L1294.1 975.4L1296.7 977.0L1299.2 978.5L1301.8 980.1L1304.4 981.7L1306.9 983.3L1309.5 984.8L1312.0 986.4L1314.6 987.9L1317.2 989.5L1319.8 991.0L1322.4 992.5L1325.0 994.0L1327.6 995.4L1330.3 996.8L1332.9 998.2L1335.6 999.6L1338.3 1000.9L1341.0 1002.2L1343.7 1003.5L1346.4 1004.8L1349.2 1006.1L1351.9 1007.3L1354.6 1008.5L1357.4 1009.7L1360.2 1010.9L1362.9 1012.0L1365.7 1013.2L1368.5 1014.3L1371.3 1015.4L1374.1 1016.5L1376.9 1017.5L1379.7 1018.5L1382.6 1019.5L1385.4 1020.5L1388.2 1021.5L1391.1 1022.4L1394.0 1023.3L1396.8 1024.2L1399.7 1025.1L1402.6 1025.9L1405.5 1026.7L1408.4 1027.5L1411.3 1028.3L1414.2 1029.1L1417.1 1029.9L1420.0 1030.6L1422.9 1031.4L1425.8 1032.1L1428.7 1032.8L1431.6 1033.6L1434.5 1034.3L1437.5 1035.0L1440.4 1035.6L1443.3 1036.3L1446.3 1036.9L1449.2 1037.6L1452.1 1038.2L1455.1 1038.8L1458.0 1039.4L1461.0 1040.0L1463.9 1040.6L1466.9 1041.1L1469.8 1041.7L1472.8 1042.2L1475.7 1042.7L1478.7 1043.3L1481.6 1043.8L1484.6 1044.2L1487.6 1044.7L1490.5 1045.2L1493.5 1045.6L1496.5 1046.1L1499.5 1046.5L1502.4 1046.9L1505.4 1047.2L1508.4 1047.6L1511.4 1047.9L1514.4 1048.2L1517.4 1048.5L1520.3 1048.8L1523.3 1049.0L1526.3 1049.2L1529.3 1049.4L1532.3 1049.6L1535.3 1049.7L1538.3 1049.8L1541.3 1049.9L1544.3 1049.9L1547.3 1050.0L1550.3 1050.0L1553.3 1050.0L1556.3 1049.9L1559.4 1049.9L1562.4 1049.8L1565.4 1049.7L1568.4 1049.6L1571.4 1049.5L1574.4 1049.4L1577.4 1049.2L1580.4 1049.1L1583.4 1048.9L1586.4 1048.8L1589.4 1048.6L1592.4 1048.5L1595.4 1048.4L1598.3 1048.3L1601.3 1048.3L1604.3 1048.3L1607.3 1048.3L1610.3 1048.3L1613.3 1048.5L1616.3 1048.6L1619.3 1048.9L1622.3 1049.2L1625.3 1049.5L1628.3 1049.9L1631.3 1050.3L1634.2 1050.7L1637.2 1051.2L1640.2 1051.6L1643.1 1052.1L1646.1 1052.6L1649.1 1053.1L1652.0 1053.6L1655.0 1054.0"/>
<path d="M367.0 1056.6L369.9 1055.7L372.7 1054.8L375.6 1054.0L378.5 1053.2L381.4 1052.4L384.3 1051.7L387.3 1051.4L390.3 1051.3L393.3 1051.3L396.3 1051.4L399.3 1051.4L402.3 1051.4L405.3 1051.4L408.3 1051.4L411.3 1051.5L414.3 1051.5L417.3 1051.5L420.3 1051.5L423.3 1051.5L426.3 1051.4L429.3 1051.4L432.3 1051.4L435.3 1051.6L438.3 1052.1L441.2 1052.8L444.0 1053.6L447.0 1054.1L450.0 1054.0L453.0 1054.0L456.0 1054.0L459.0 1054.0L462.0 1053.9L465.0 1054.0L468.0 1054.1L470.9 1054.7L473.8 1055.4L476.8 1054.8L479.7 1054.2L482.7 1054.1L485.7 1054.2L488.7 1054.4L491.7 1054.4L494.6 1053.9L496.8 1052.0L498.5 1049.6L500.7 1047.5L503.0 1045.6L505.5 1043.9L507.3 1041.5L508.9 1039.0L510.6 1036.5L512.4 1034.1L514.0 1031.5L515.5 1028.9L517.0 1026.3L518.5 1023.8L519.9 1021.1L521.3 1018.5L522.6 1015.8L523.8 1013.0L524.9 1010.2L526.0 1007.4L527.0 1004.6L528.0 1001.8L528.9 998.9L529.9 996.1L530.8 993.2L531.8 990.4L532.8 987.6L533.8 984.7L534.8 981.9L535.7 979.0L536.6 976.2L537.5 973.3L538.5 970.5L539.4 967.6L540.3 964.8L541.2 961.9L542.2 959.0L543.1 956.2L544.0 953.3L544.9 950.5L545.8 947.6L546.7 944.8L547.6 941.9L548.5 939.0L549.4 936.2L550.3 933.3L551.3 930.5L552.2 927.6L553.2 924.8L554.1 921.9L555.1 919.1L556.1 916.3L557.1 913.4L558.1 910.6L559.1 907.8L560.1 905.0L561.2 902.2L562.3 899.4L563.5 896.6L564.7 893.9L565.9 891.1L567.2 888.4L568.5 885.7L569.8 883.0L571.2 880.3L572.6 877.7L574.0 875.1L575.5 872.5L577.1 869.9L578.8 867.4L580.7 865.1L582.9 863.0L585.3 861.3L587.9 859.9L590.7 858.7L593.5 857.7L596.5 857.1L599.4 856.7L602.4 856.3L605.4 855.8L608.3 855.2L611.3 854.6L614.2 854.0L617.1 853.3L620.0 852.4L622.8 851.4L625.6 850.3L628.4 849.3L631.3 848.4L634.1 847.5L636.9 846.4L639.7 845.2L642.3 843.7L644.6 841.9L646.8 839.8L648.6 837.4L650.2 834.9L651.8 832.3L653.4 829.7L654.8 827.1L656.3 824.5L657.6 821.8L659.0 819.1L660.3 816.4L661.6 813.7L662.9 811.0L664.1 808.3L665.3 805.5L666.4 802.8L667.5 800.0L668.5 797.1L669.4 794.3L670.4 791.4L671.3 788.6L672.3 785.7L673.2 782.9L674.1 780.0L675.0 777.2L675.9 774.3L676.8 771.4L677.7 768.6L678.6 765.7L679.4 762.8L680.2 759.9L681.1 757.1L681.9 754.2L682.7 751.3L683.5 748.4L684.4 745.5L685.2 742.6L686.1 739.8L686.9 736.9L687.7 734.0L688.6 731.1L689.4 728.2L690.3 725.4L691.1 722.5L691.9 719.6L692.8 716.7L693.7 713.9L694.6 711.0L695.5 708.1L696.4 705.3L697.4 702.4L698.3 699.6L699.3 696.8L700.3 693.9L701.3 691.1L702.4 688.3L703.4 685.5L704.5 682.7L705.5 679.9L706.7 677.1L707.9 674.3L709.0 671.6L710.1 668.8L711.2 666.0L712.1 663.1L712.9 660.2L713.7 657.3L714.4 654.4L715.1 651.5L715.9 648.6L716.7 645.7L717.6 642.9L718.4 640.0L719.3 637.1L720.2 634.2L721.2 631.4L722.1 628.6L723.2 625.8L724.3 623.0L725.5 620.2L726.6 617.4L727.7 614.6L728.8 611.8L729.8 609.0L730.8 606.2L731.8 603.4L732.9 600.6L734.0 597.8L735.2 595.0L736.5 592.3L737.9 589.6L739.3 587.0L740.7 584.4L742.3 581.8L743.8 579.2L745.4 576.7L746.9 574.1L748.5 571.5L750.1 569.0L751.6 566.4L753.3 563.9L755.0 561.4L756.7 559.0L758.5 556.6L760.3 554.2L762.0 551.7L763.6 549.2L765.3 546.7L766.9 544.2L768.6 541.7L770.2 539.2L771.9 536.7L773.5 534.2L775.1 531.6L776.7 529.1L778.2 526.5L779.7 523.9L781.1 521.2L782.4 518.5L783.6 515.8L784.7 513.0L785.8 510.2L786.9 507.4L788.0 504.6L789.1 501.8L790.2 499.0L791.2 496.2L792.3 493.4L793.3 490.6L794.3 487.7L795.4 484.9L796.4 482.1L797.4 479.3L798.4 476.5L799.4 473.6L800.4 470.8L801.4 468.0L802.4 465.1L803.4 462.3L804.5 459.5L805.6 456.7L806.8 454.0L807.9 451.2L809.0 448.4L810.0 445.6L811.0 442.7L812.0 439.9L813.0 437.1L813.9 434.2L814.9 431.4L815.9 428.5L816.9 425.7L817.9 422.9L818.9 420.1L820.0 417.3L821.2 414.5L822.4 411.8L823.6 409.0L824.9 406.3L826.3 403.7L827.6 401.0L829.0 398.3L830.5 395.7L832.0 393.1L833.7 390.6L835.4 388.2L837.5 386.0L839.8 384.1L842.4 382.6L845.1 381.4L847.8 380.1L850.6 378.9L853.5 378.4L856.5 378.6L859.4 379.2L862.3 380.1L865.0 381.4L867.6 382.9L870.1 384.6L872.5 386.4L874.7 388.4L876.9 390.4L879.1 392.5L881.2 394.6L883.3 396.8L885.4 399.0L887.4 401.2L889.4 403.4L891.3 405.7L893.2 408.0L895.0 410.4L896.8 412.9L898.5 415.3L900.2 417.8L901.8 420.3L903.5 422.8L905.1 425.3L906.7 427.9L908.3 430.4L909.9 432.9L911.5 435.5L913.0 438.1L914.6 440.6L916.2 443.2L917.7 445.7L919.3 448.3L920.9 450.8L922.6 453.3L924.2 455.8L925.9 458.3L927.5 460.8L929.2 463.3L930.9 465.8L932.6 468.2L934.3 470.7L936.1 473.1L937.8 475.6L939.6 478.0L941.3 480.4L943.1 482.9L944.9 485.3L946.7 487.7L948.5 490.1L950.3 492.5L952.1 494.9L953.9 497.3L955.7 499.7L957.5 502.1L959.3 504.5L961.1 506.9L962.8 509.3L964.5 511.8L966.2 514.3L967.8 516.8L969.5 519.3L971.1 521.8L972.6 524.4L974.1 527.0L975.6 529.6L977.1 532.2L978.6 534.8L980.0 537.4L981.4 540.1L982.8 542.7L984.2 545.4L985.6 548.1L987.0 550.7L988.4 553.4L989.8 556.0L991.2 558.7L992.6 561.3L994.0 564.0L995.4 566.6L996.8 569.3L998.2 571.9L999.6 574.6L1001.0 577.2L1002.4 579.9L1003.8 582.6L1005.2 585.2L1006.6 587.9L1008.0 590.5L1009.4 593.2L1010.8 595.8L1012.2 598.5L1013.6 601.1L1014.9 603.8L1016.3 606.5L1017.7 609.1L1019.0 611.8L1020.4 614.5L1021.7 617.2L1023.0 619.9L1024.2 622.6L1025.5 625.3L1026.7 628.1L1027.9 630.8L1029.1 633.6L1030.3 636.3L1031.5 639.0L1032.8 641.8L1034.1 644.5L1035.3 647.2L1036.7 649.9L1038.0 652.6L1039.3 655.2L1040.7 657.9L1042.1 660.6L1043.5 663.2L1044.8 665.9L1046.2 668.6L1047.6 671.3L1048.9 673.9L1050.2 676.6L1051.6 679.3L1052.9 682.0L1054.2 684.7L1055.5 687.4L1056.9 690.1L1058.2 692.7L1059.5 695.4L1060.9 698.1L1062.2 700.8L1063.5 703.5L1064.8 706.2L1066.1 708.9L1067.4 711.6L1068.7 714.3L1070.0 717.0L1071.4 719.7L1072.7 722.4L1074.0 725.1L1075.4 727.8L1076.7 730.4L1078.1 733.1L1079.5 735.7L1080.9 738.4L1082.3 741.0L1083.7 743.7L1085.1 746.3L1086.5 749.0L1087.9 751.7L1089.3 754.3L1090.7 757.0L1092.1 759.6L1093.5 762.2L1095.0 764.9L1096.4 767.5L1097.9 770.1L1099.4 772.7L1100.9 775.3L1102.5 777.8L1104.0 780.4L1105.5 783.0L1107.0 785.6L1108.5 788.2L1110.0 790.8L1111.5 793.4L1113.0 796.0L1114.4 798.6L1115.9 801.2L1117.4 803.7L1119.0 806.3L1120.6 808.8L1122.2 811.3L1123.8 813.8L1125.5 816.3L1127.2 818.7L1128.9 821.1L1130.7 823.5L1132.5 825.9L1134.4 828.3L1136.2 830.6L1138.1 832.9L1140.0 835.2L1142.0 837.5L1143.9 839.8L1145.8 842.1L1147.8 844.3L1149.8 846.6L1151.7 848.9L1153.7 851.1L1155.7 853.3L1157.8 855.5L1159.8 857.7L1161.9 859.9L1164.0 862.0L1166.1 864.2L1168.2 866.3L1170.3 868.4L1172.4 870.5L1174.5 872.7L1176.6 874.8L1178.8 876.9L1180.8 879.1L1182.9 881.2L1185.0 883.4L1187.1 885.6L1189.1 887.8L1191.1 890.0L1193.2 892.2L1195.2 894.3L1197.3 896.5L1199.4 898.6L1201.5 900.8L1203.7 902.9L1205.8 904.9L1208.0 907.0L1210.2 909.0L1212.5 911.0L1214.7 912.9L1217.0 914.9L1219.3 916.8L1221.6 918.8L1223.9 920.7L1226.2 922.6L1228.5 924.5L1230.9 926.3L1233.2 928.2L1235.6 930.0L1238.0 931.9L1240.4 933.7L1242.8 935.5L1245.2 937.3L1247.6 939.0L1250.1 940.7L1252.5 942.5L1255.0 944.1L1257.5 945.8L1260.0 947.4L1262.6 948.9L1265.2 950.4L1267.8 951.9L1270.4 953.2L1273.1 954.5L1275.8 955.8L1278.6 957.0L1281.3 958.2L1284.1 959.3L1286.9 960.4L1289.6 961.6L1292.4 962.7L1295.2 963.8L1297.9 965.0L1300.7 966.2L1303.4 967.4L1306.1 968.7L1308.8 970.0L1311.5 971.4L1314.1 972.8L1316.7 974.2L1319.3 975.8L1321.9 977.3L1324.4 978.9L1327.0 980.5L1329.5 982.1L1332.0 983.7L1334.5 985.4L1337.0 987.0L1339.5 988.7L1342.0 990.3L1344.5 992.0L1347.0 993.6L1349.5 995.3L1352.0 996.9L1354.6 998.5L1357.1 1000.2L1359.6 1001.7L1362.2 1003.3L1364.8 1004.8L1367.4 1006.3L1370.0 1007.8L1372.6 1009.2L1375.3 1010.6L1378.0 1011.9L1380.7 1013.1L1383.4 1014.3L1386.2 1015.5L1389.0 1016.5L1391.8 1017.6L1394.6 1018.5L1397.4 1019.5L1400.3 1020.4L1403.2 1021.2L1406.1 1022.0L1409.0 1022.8L1411.8 1023.6L1414.7 1024.4L1417.7 1025.1L1420.6 1025.9L1423.5 1026.6L1426.4 1027.4L1429.3 1028.1L1432.2 1028.9L1435.1 1029.6L1438.0 1030.4L1440.9 1031.1L1443.8 1031.8L1446.7 1032.5L1449.6 1033.2L1452.6 1033.9L1455.5 1034.6L1458.4 1035.2L1461.3 1035.9L1464.3 1036.5L1467.2 1037.1L1470.2 1037.7L1473.1 1038.2L1476.1 1038.8L1479.0 1039.3L1482.0 1039.8L1484.9 1040.3L1487.9 1040.7L1490.9 1041.2L1493.8 1041.6L1496.8 1042.0L1499.8 1042.5L1502.7 1042.9L1505.7 1043.2L1508.7 1043.6L1511.7 1044.0L1514.6 1044.3L1517.6 1044.7L1520.6 1045.0L1523.6 1045.3L1526.6 1045.6L1529.6 1045.9L1532.5 1046.2L1535.5 1046.4L1538.5 1046.7L1541.5 1046.9L1544.5 1047.1L1547.5 1047.2L1550.5 1047.4L1553.5 1047.5L1556.5 1047.6L1559.5 1047.7L1562.5 1047.7L1565.5 1047.7L1568.5 1047.6L1571.5 1047.5L1574.5 1047.4L1577.5 1047.3L1580.5 1047.2L1583.5 1047.0L1586.4 1046.9L1589.4 1046.7L1592.4 1046.6L1595.4 1046.5L1598.4 1046.4L1601.4 1046.3L1604.4 1046.3L1607.4 1046.3L1610.4 1046.3L1613.4 1046.5L1616.4 1046.6L1619.4 1046.9L1622.4 1047.2L1625.3 1047.5L1628.3 1047.9L1631.3 1048.3L1634.3 1048.7L1637.2 1049.2L1640.2 1049.6L1643.1 1050.1L1646.1 1050.6L1649.1 1051.1L1652.0 1051.6L1655.0 1052.0"/>
<path d="M367.0 1055.7L369.9 1054.9L372.8 1054.1L375.7 1053.3L378.6 1052.4L381.4 1051.6L384.4 1050.9L387.3 1050.6L390.3 1050.5L393.3 1050.6L396.3 1050.6L399.3 1050.7L402.3 1050.7L405.3 1050.7L408.3 1050.7L411.4 1050.7L414.4 1050.7L417.4 1050.7L420.4 1050.7L423.4 1050.7L426.4 1050.6L429.4 1050.5L432.4 1050.5L435.4 1050.7L438.3 1051.3L441.2 1052.1L444.1 1053.0L447.0 1053.3L450.0 1053.2L453.0 1053.2L456.0 1053.1L459.0 1053.1L462.0 1053.1L465.0 1053.1L468.0 1053.3L470.9 1053.9L473.8 1054.7L476.7 1054.0L479.6 1053.3L482.6 1053.3L485.6 1053.4L488.6 1053.5L491.6 1053.5L494.6 1053.1L496.6 1051.0L498.2 1048.5L500.4 1046.5L502.8 1044.6L505.3 1043.0L507.3 1040.8L509.0 1038.3L510.7 1035.9L512.4 1033.4L514.0 1030.8L515.5 1028.2L517.0 1025.6L518.5 1023.1L519.9 1020.4L521.3 1017.7L522.5 1015.0L523.7 1012.2L524.8 1009.4L525.9 1006.6L526.9 1003.8L527.9 1001.0L528.8 998.1L529.8 995.3L530.7 992.4L531.7 989.6L532.8 986.8L533.7 983.9L534.7 981.1L535.6 978.2L536.5 975.4L537.4 972.5L538.3 969.7L539.3 966.8L540.2 964.0L541.1 961.1L542.0 958.2L543.0 955.4L543.9 952.5L544.8 949.7L545.7 946.8L546.6 944.0L547.5 941.1L548.4 938.2L549.3 935.4L550.2 932.5L551.1 929.6L552.1 926.8L553.1 924.0L554.0 921.1L555.0 918.3L556.0 915.5L557.0 912.6L558.0 909.8L559.0 907.0L560.1 904.1L561.2 901.3L562.3 898.6L563.5 895.8L564.7 893.1L566.0 890.3L567.2 887.6L568.5 884.9L569.8 882.2L571.1 879.5L572.4 876.8L573.8 874.1L575.2 871.5L576.7 868.9L578.4 866.4L580.4 864.2L582.5 862.0L584.9 860.2L587.5 858.7L590.2 857.4L593.0 856.3L595.9 855.5L598.8 855.0L601.8 854.5L604.7 853.9L607.7 853.3L610.6 852.7L613.5 852.0L616.4 851.3L619.3 850.5L622.2 849.6L625.0 848.5L627.8 847.5L630.7 846.6L633.5 845.6L636.3 844.6L639.1 843.4L641.6 841.8L643.8 839.7L645.7 837.4L647.3 834.9L648.7 832.2L650.1 829.5L651.4 826.8L652.7 824.2L654.0 821.5L655.4 818.8L656.9 816.2L658.3 813.5L659.7 810.9L660.9 808.1L662.1 805.4L663.1 802.5L664.1 799.7L664.9 796.8L665.8 793.9L666.7 791.1L667.6 788.2L668.6 785.4L669.5 782.5L670.4 779.7L671.2 776.8L672.2 773.9L673.2 771.1L674.1 768.3L674.8 765.3L675.4 762.4L676.0 759.5L676.7 756.5L677.5 753.6L678.4 750.8L679.2 747.9L680.1 745.0L681.0 742.2L681.9 739.3L682.7 736.4L683.4 733.5L684.1 730.5L684.7 727.6L685.4 724.7L686.1 721.8L686.8 718.9L687.5 715.9L688.3 713.0L689.0 710.1L689.8 707.2L690.5 704.3L691.3 701.4L692.1 698.5L693.0 695.7L693.8 692.8L694.6 689.9L695.5 687.0L696.3 684.1L697.1 681.2L697.9 678.3L698.7 675.4L699.4 672.5L700.1 669.6L700.8 666.7L701.5 663.8L702.2 660.8L702.9 657.9L703.5 655.0L704.1 652.0L704.7 649.1L705.2 646.1L705.8 643.2L706.3 640.2L706.8 637.3L707.3 634.3L707.8 631.4L708.4 628.4L709.1 625.5L709.9 622.6L710.7 619.7L711.5 616.8L712.3 613.9L713.0 611.0L713.8 608.1L714.6 605.2L715.4 602.3L716.1 599.4L716.9 596.5L717.7 593.6L718.4 590.7L719.2 587.8L719.9 584.9L720.5 581.9L721.1 579.0L721.7 576.1L722.5 573.2L723.3 570.3L724.2 567.4L725.0 564.5L725.9 561.7L726.8 558.8L727.7 555.9L728.6 553.1L729.6 550.2L730.7 547.4L731.7 544.6L732.7 541.8L733.7 538.9L734.5 536.1L735.4 533.2L736.3 530.3L737.1 527.4L738.0 524.6L738.9 521.7L739.9 518.9L740.9 516.0L741.9 513.2L742.9 510.4L744.0 507.6L745.1 504.8L746.3 502.0L747.4 499.2L748.5 496.5L749.6 493.7L750.7 490.9L751.9 488.1L753.0 485.3L754.2 482.6L755.3 479.8L756.4 477.0L757.6 474.2L758.7 471.4L759.8 468.7L760.9 465.9L762.1 463.1L763.2 460.3L764.2 457.5L765.3 454.7L766.4 451.9L767.5 449.1L768.6 446.3L769.7 443.5L770.7 440.7L771.8 437.9L772.8 435.1L773.9 432.3L774.9 429.4L775.9 426.6L776.9 423.8L777.9 420.9L778.9 418.1L779.9 415.3L780.9 412.4L781.9 409.6L783.0 406.8L784.1 404.0L785.2 401.3L786.4 398.5L787.7 395.8L788.9 393.0L790.2 390.3L791.4 387.6L792.6 384.8L793.7 382.0L794.8 379.2L795.9 376.4L796.9 373.6L797.9 370.8L798.9 368.0L799.9 365.1L800.9 362.3L801.9 359.5L802.9 356.6L803.9 353.8L804.9 351.0L805.9 348.1L806.8 345.3L807.8 342.4L808.7 339.6L809.6 336.7L810.4 333.8L811.3 331.0L812.2 328.1L813.1 325.2L813.9 322.3L814.8 319.5L815.7 316.6L816.6 313.7L817.5 310.9L818.5 308.0L819.4 305.2L820.4 302.4L821.5 299.6L822.6 296.8L823.7 294.0L824.9 291.2L826.1 288.5L827.3 285.7L828.5 283.0L829.8 280.3L831.0 277.5L832.4 274.8L833.8 272.2L835.3 269.6L836.9 267.1L838.7 264.6L840.5 262.3L842.4 260.0L844.4 257.7L846.4 255.5L848.6 253.4L850.8 251.4L853.3 249.6L855.8 248.1L858.7 247.1L861.7 247.1L864.6 247.7L867.4 248.6L870.2 249.7L872.9 251.0L875.5 252.5L877.9 254.4L880.2 256.3L882.5 258.2L885.0 259.9L887.3 261.8L889.3 264.0L891.2 266.4L893.0 268.8L894.7 271.3L896.3 273.8L897.9 276.3L899.5 278.9L901.1 281.4L902.7 284.0L904.2 286.6L905.7 289.1L907.2 291.7L908.7 294.3L910.2 297.0L911.7 299.6L913.1 302.2L914.5 304.9L915.9 307.5L917.3 310.2L918.7 312.8L920.0 315.5L921.3 318.2L922.6 320.9L923.8 323.7L925.1 326.4L926.3 329.1L927.5 331.9L928.7 334.6L929.9 337.4L931.1 340.2L932.3 342.9L933.5 345.7L934.7 348.4L935.9 351.2L937.1 353.9L938.3 356.7L939.5 359.4L940.8 362.1L942.0 364.9L943.3 367.6L944.5 370.3L945.8 373.0L947.1 375.7L948.4 378.4L949.7 381.1L951.1 383.8L952.4 386.5L953.8 389.2L955.1 391.8L956.5 394.5L957.9 397.2L959.3 399.8L960.7 402.5L962.1 405.1L963.6 407.8L965.0 410.4L966.4 413.0L967.9 415.7L969.3 418.3L970.8 420.9L972.3 423.5L973.8 426.1L975.2 428.7L976.7 431.3L978.2 433.9L979.7 436.5L981.2 439.2L982.7 441.8L984.2 444.4L985.7 447.0L987.1 449.6L988.6 452.2L990.1 454.8L991.5 457.5L993.0 460.1L994.4 462.7L995.8 465.4L997.2 468.0L998.6 470.7L999.9 473.4L1001.2 476.1L1002.5 478.8L1003.8 481.5L1005.0 484.2L1006.1 487.0L1007.3 489.8L1008.4 492.6L1009.5 495.4L1010.5 498.2L1011.5 501.0L1012.6 503.8L1013.6 506.6L1014.6 509.5L1015.6 512.3L1016.6 515.1L1017.6 518.0L1018.6 520.8L1019.6 523.6L1020.7 526.4L1021.8 529.2L1022.9 532.0L1024.1 534.7L1025.2 537.5L1026.4 540.3L1027.6 543.0L1028.7 545.8L1029.9 548.5L1031.0 551.3L1032.2 554.1L1033.2 556.9L1034.3 559.7L1035.3 562.5L1036.3 565.4L1037.2 568.2L1038.2 571.1L1039.1 573.9L1040.1 576.7L1041.0 579.6L1042.0 582.4L1043.0 585.3L1044.0 588.1L1045.0 590.9L1046.0 593.7L1047.1 596.5L1048.2 599.3L1049.3 602.1L1050.3 604.9L1051.4 607.7L1052.5 610.5L1053.6 613.3L1054.6 616.2L1055.7 619.0L1056.7 621.8L1057.7 624.6L1058.8 627.4L1059.8 630.2L1060.8 633.1L1061.8 635.9L1062.9 638.7L1063.9 641.5L1065.0 644.3L1066.0 647.1L1067.1 649.9L1068.2 652.7L1069.3 655.5L1070.4 658.3L1071.5 661.1L1072.5 663.9L1073.6 666.7L1074.7 669.5L1075.8 672.3L1076.9 675.1L1078.0 677.9L1079.1 680.7L1080.2 683.5L1081.3 686.3L1082.5 689.0L1083.6 691.8L1084.8 694.6L1086.0 697.3L1087.2 700.1L1088.4 702.8L1089.6 705.6L1090.8 708.3L1092.1 711.0L1093.3 713.8L1094.6 716.5L1095.8 719.2L1097.1 721.9L1098.4 724.7L1099.7 727.4L1101.0 730.1L1102.3 732.8L1103.6 735.5L1105.0 738.1L1106.3 740.8L1107.7 743.5L1109.2 746.1L1110.6 748.7L1112.1 751.3L1113.6 753.9L1115.2 756.5L1116.7 759.1L1118.3 761.6L1119.9 764.2L1121.5 766.7L1123.1 769.2L1124.7 771.7L1126.4 774.2L1128.1 776.7L1129.8 779.2L1131.4 781.7L1133.1 784.2L1134.9 786.6L1136.6 789.1L1138.3 791.5L1140.1 794.0L1141.8 796.4L1143.6 798.8L1145.3 801.3L1147.1 803.7L1148.9 806.1L1150.7 808.5L1152.5 810.9L1154.3 813.3L1156.1 815.7L1158.0 818.0L1159.8 820.4L1161.7 822.8L1163.6 825.1L1165.4 827.5L1167.3 829.8L1169.2 832.2L1171.0 834.5L1172.9 836.9L1174.7 839.2L1176.6 841.6L1178.4 844.0L1180.2 846.4L1182.0 848.8L1183.8 851.2L1185.5 853.6L1187.4 856.0L1189.2 858.4L1191.0 860.7L1192.9 863.1L1194.8 865.4L1196.8 867.6L1198.8 869.8L1200.9 872.0L1203.0 874.1L1205.2 876.2L1207.3 878.2L1209.6 880.2L1211.8 882.2L1214.1 884.1L1216.3 886.1L1218.6 888.0L1220.9 890.0L1223.2 891.9L1225.5 893.9L1227.8 895.8L1230.1 897.7L1232.4 899.6L1234.7 901.5L1237.0 903.4L1239.4 905.3L1241.7 907.2L1244.0 909.2L1246.3 911.1L1248.6 913.0L1250.8 915.0L1253.1 917.0L1255.3 919.0L1257.5 921.0L1259.6 923.1L1261.8 925.2L1263.9 927.2L1266.1 929.3L1268.3 931.4L1270.4 933.4L1272.6 935.5L1274.8 937.5L1276.9 939.5L1279.1 941.6L1281.3 943.6L1283.6 945.6L1285.8 947.6L1288.0 949.6L1290.2 951.6L1292.5 953.6L1294.7 955.6L1297.0 957.5L1299.2 959.5L1301.5 961.5L1303.8 963.4L1306.0 965.4L1308.3 967.3L1310.6 969.2L1312.9 971.0L1315.2 972.8L1317.6 974.6L1319.9 976.3L1322.3 977.9L1324.8 979.5L1327.2 981.0L1329.7 982.5L1332.3 983.9L1334.9 985.3L1337.6 986.6L1340.2 987.8L1343.0 989.1L1345.7 990.3L1348.4 991.5L1351.2 992.7L1353.9 993.8L1356.7 995.0L1359.5 996.2L1362.3 997.3L1365.0 998.4L1367.8 999.5L1370.6 1000.6L1373.4 1001.6L1376.3 1002.7L1379.1 1003.7L1381.9 1004.6L1384.8 1005.5L1387.6 1006.4L1390.5 1007.3L1393.4 1008.1L1396.3 1008.8L1399.2 1009.6L1402.1 1010.3L1405.0 1011.0L1408.0 1011.7L1410.9 1012.3L1413.8 1013.0L1416.7 1013.7L1419.6 1014.4L1422.5 1015.2L1425.4 1016.0L1428.3 1016.8L1431.1 1017.7L1434.0 1018.7L1436.8 1019.6L1439.6 1020.6L1442.5 1021.7L1445.3 1022.7L1448.1 1023.7L1450.9 1024.7L1453.7 1025.7L1456.6 1026.7L1459.4 1027.6L1462.3 1028.5L1465.1 1029.4L1468.0 1030.3L1470.9 1031.1L1473.8 1032.0L1476.7 1032.8L1479.6 1033.5L1482.5 1034.3L1485.4 1035.0L1488.3 1035.6L1491.2 1036.3L1494.2 1036.9L1497.1 1037.5L1500.1 1038.0L1503.0 1038.6L1506.0 1039.1L1508.9 1039.7L1511.9 1040.2L1514.8 1040.8L1517.8 1041.3L1520.7 1041.9L1523.7 1042.5L1526.6 1043.0L1529.5 1043.6L1532.5 1044.1L1535.4 1044.6L1538.4 1045.1L1541.4 1045.5L1544.3 1045.8L1547.3 1046.1L1550.3 1046.2L1553.3 1046.3L1556.2 1046.4L1559.2 1046.3L1562.2 1046.2L1565.2 1046.0L1568.2 1045.8L1571.1 1045.5L1574.1 1045.1L1577.1 1044.8L1580.1 1044.4L1583.0 1044.0L1586.0 1043.6L1589.0 1043.3L1591.9 1042.9L1594.9 1042.6L1597.9 1042.4L1600.9 1042.2L1603.9 1042.1L1606.9 1042.0L1609.9 1041.9L1612.9 1041.9L1615.9 1041.9L1618.9 1041.9L1621.9 1042.0L1624.9 1042.0L1627.9 1042.0L1630.9 1041.9L1633.9 1041.9L1636.9 1042.0L1639.9 1042.1L1642.8 1042.5L1645.7 1043.3L1647.1 1045.8L1647.8 1048.7L1650.0 1050.7L1652.5 1052.4L1655.0 1054.0"/>
</g>
<g fill="#000">
<rect x="364.7" y="123.4" width="5" height="973.6"/>
<rect x="345.5" y="914.3" width="20" height="5.2"/>
<rect x="345.5" y="755.8" width="20" height="5.2"/>
<rect x="345.5" y="597.4" width="20" height="5.2"/>
<rect x="345.5" y="439.0" width="20" height="5.2"/>
<rect x="345.5" y="280.5" width="20" height="5.2"/>
<rect x="345.7" y="123.4" width="20" height="2.6"/>
</g>
<g font-size="64.5" fill="#000" text-anchor="end">
<text transform="translate(334.5 1092.9) scale(0.985 1.03)">0</text>
<text transform="translate(334.5 934.5) scale(0.985 1.03)">200</text>
<text transform="translate(334.5 776.0) scale(0.985 1.03)">400</text>
<text transform="translate(334.5 617.6) scale(0.985 1.03)">600</text>
<text transform="translate(334.5 459.2) scale(0.985 1.03)">800</text>
<text transform="translate(334.5 300.7) scale(0.985 1.03)">1000</text>
<text transform="translate(334.5 142.3) scale(0.985 1.03)">1200</text>
</g>
<g font-size="64.5" fill="#000" text-anchor="middle">
<text transform="translate(366.4 1158.6) scale(1 1.05)">350</text>
<text transform="translate(550.4 1158.6) scale(1 1.05)">400</text>
<text transform="translate(734.4 1158.6) scale(1 1.05)">450</text>
<text transform="translate(918.4 1158.6) scale(1 1.05)">500</text>
<text transform="translate(1102.4 1158.6) scale(1 1.05)">550</text>
<text transform="translate(1286.4 1158.6) scale(1 1.05)">600</text>
<text transform="translate(1470.4 1158.6) scale(1 1.05)">650</text>
<text transform="translate(1654.4 1158.6) scale(1 1.05)">700</text>
</g>
<text x="715" y="1273.8" font-size="77" textLength="595" lengthAdjust="spacingAndGlyphs" fill="#000">Wavelength (nm)</text>
<text transform="translate(151.8 601.5) rotate(-90) scale(1.001 1.05)" x="0" y="0" font-size="78" text-anchor="middle" fill="#000">Fluorescence intensity (a.u.)</text>
<rect x="1160.4" y="276" width="5.4" height="485.7" fill="#000"/>
<polygon points="1160.6,251.6 1165.8,251.6 1165.8,260 1168.7,260 1168.7,271.1 1171.1,271.1 1171.1,278.6 1155.2,278.6 1155.2,268.1 1158,268.1 1158,257.2 1160.6,257.2" fill="#000"/>
<text x="1195" y="529" font-size="64.5" fill="#000">0-800 eq. H<tspan font-size="37" dx="0" dy="-32">+</tspan></text>
<line x1="708" y1="994" x2="1328" y2="764" stroke="#ff0066" stroke-width="4.2"/>
<polygon points="1318.5,758.6 1346,755.8 1346,761.8 1325.5,775.2" fill="#ff0066"/>
<defs><clipPath id="c15"><rect x="1340" y="700" width="160" height="70.8"/><rect x="1375.1" y="700" width="8.9" height="90"/><rect x="1396" y="700" width="100" height="90"/></clipPath></defs>
<text x="1360" y="778" font-size="64.5" font-weight="bold" fill="#ff0066" clip-path="url(#c15)">15</text>
</svg></body></html>
